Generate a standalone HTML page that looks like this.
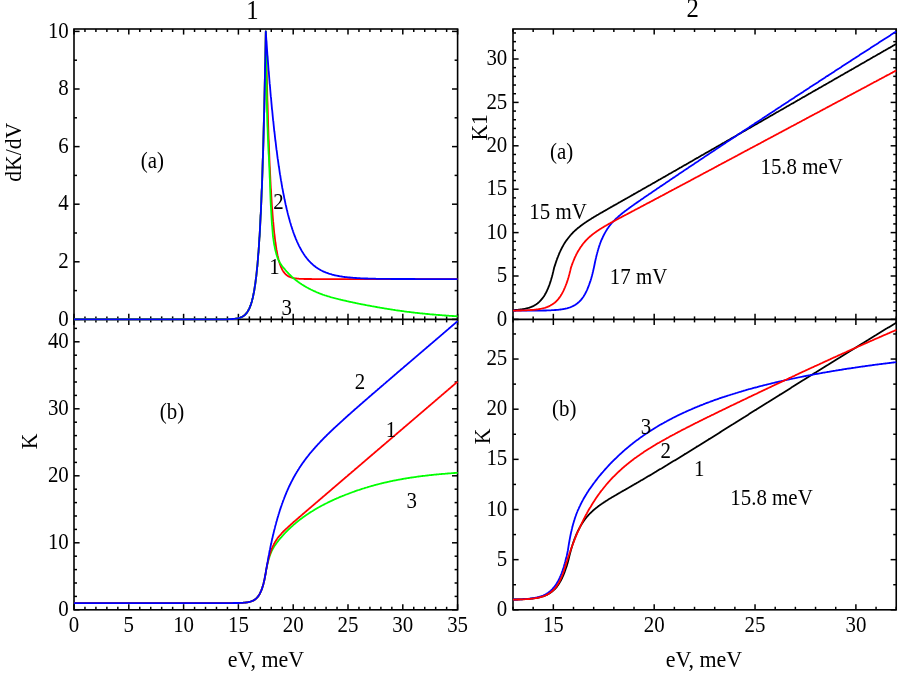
<!DOCTYPE html>
<html lang="en"><head><meta charset="utf-8"><title>chart</title>
<style>html,body{margin:0;padding:0;background:#fff;}body{width:899px;height:675px;overflow:hidden;font-family:"Liberation Serif",serif;}svg{display:block;will-change:transform;}svg text{font-family:"Liberation Serif",serif;}</style>
</head><body>
<svg width="899" height="675" viewBox="0 0 899 675" fill="#000">
<rect x="74.00" y="29.00" width="383.60" height="580.80" fill="none" stroke="#000" stroke-width="1.60"/>
<line x1="74.00" y1="319.40" x2="457.60" y2="319.40" stroke="#000" stroke-width="1.60"/>
<rect x="513.00" y="29.00" width="383.23" height="580.80" fill="none" stroke="#000" stroke-width="1.60"/>
<line x1="513.00" y1="319.40" x2="896.23" y2="319.40" stroke="#000" stroke-width="1.60"/>
<line x1="74.00" y1="29.00" x2="74.00" y2="34.60" stroke="#000" stroke-width="1.50"/>
<line x1="74.00" y1="609.80" x2="74.00" y2="604.20" stroke="#000" stroke-width="1.50"/>
<line x1="74.00" y1="313.80" x2="74.00" y2="325.00" stroke="#000" stroke-width="1.50"/>
<line x1="84.96" y1="29.00" x2="84.96" y2="32.00" stroke="#000" stroke-width="1.50"/>
<line x1="84.96" y1="609.80" x2="84.96" y2="606.80" stroke="#000" stroke-width="1.50"/>
<line x1="84.96" y1="316.40" x2="84.96" y2="322.40" stroke="#000" stroke-width="1.50"/>
<line x1="95.92" y1="29.00" x2="95.92" y2="32.00" stroke="#000" stroke-width="1.50"/>
<line x1="95.92" y1="609.80" x2="95.92" y2="606.80" stroke="#000" stroke-width="1.50"/>
<line x1="95.92" y1="316.40" x2="95.92" y2="322.40" stroke="#000" stroke-width="1.50"/>
<line x1="106.88" y1="29.00" x2="106.88" y2="32.00" stroke="#000" stroke-width="1.50"/>
<line x1="106.88" y1="609.80" x2="106.88" y2="606.80" stroke="#000" stroke-width="1.50"/>
<line x1="106.88" y1="316.40" x2="106.88" y2="322.40" stroke="#000" stroke-width="1.50"/>
<line x1="117.84" y1="29.00" x2="117.84" y2="32.00" stroke="#000" stroke-width="1.50"/>
<line x1="117.84" y1="609.80" x2="117.84" y2="606.80" stroke="#000" stroke-width="1.50"/>
<line x1="117.84" y1="316.40" x2="117.84" y2="322.40" stroke="#000" stroke-width="1.50"/>
<line x1="128.80" y1="29.00" x2="128.80" y2="34.60" stroke="#000" stroke-width="1.50"/>
<line x1="128.80" y1="609.80" x2="128.80" y2="604.20" stroke="#000" stroke-width="1.50"/>
<line x1="128.80" y1="313.80" x2="128.80" y2="325.00" stroke="#000" stroke-width="1.50"/>
<line x1="139.76" y1="29.00" x2="139.76" y2="32.00" stroke="#000" stroke-width="1.50"/>
<line x1="139.76" y1="609.80" x2="139.76" y2="606.80" stroke="#000" stroke-width="1.50"/>
<line x1="139.76" y1="316.40" x2="139.76" y2="322.40" stroke="#000" stroke-width="1.50"/>
<line x1="150.72" y1="29.00" x2="150.72" y2="32.00" stroke="#000" stroke-width="1.50"/>
<line x1="150.72" y1="609.80" x2="150.72" y2="606.80" stroke="#000" stroke-width="1.50"/>
<line x1="150.72" y1="316.40" x2="150.72" y2="322.40" stroke="#000" stroke-width="1.50"/>
<line x1="161.68" y1="29.00" x2="161.68" y2="32.00" stroke="#000" stroke-width="1.50"/>
<line x1="161.68" y1="609.80" x2="161.68" y2="606.80" stroke="#000" stroke-width="1.50"/>
<line x1="161.68" y1="316.40" x2="161.68" y2="322.40" stroke="#000" stroke-width="1.50"/>
<line x1="172.64" y1="29.00" x2="172.64" y2="32.00" stroke="#000" stroke-width="1.50"/>
<line x1="172.64" y1="609.80" x2="172.64" y2="606.80" stroke="#000" stroke-width="1.50"/>
<line x1="172.64" y1="316.40" x2="172.64" y2="322.40" stroke="#000" stroke-width="1.50"/>
<line x1="183.60" y1="29.00" x2="183.60" y2="34.60" stroke="#000" stroke-width="1.50"/>
<line x1="183.60" y1="609.80" x2="183.60" y2="604.20" stroke="#000" stroke-width="1.50"/>
<line x1="183.60" y1="313.80" x2="183.60" y2="325.00" stroke="#000" stroke-width="1.50"/>
<line x1="194.56" y1="29.00" x2="194.56" y2="32.00" stroke="#000" stroke-width="1.50"/>
<line x1="194.56" y1="609.80" x2="194.56" y2="606.80" stroke="#000" stroke-width="1.50"/>
<line x1="194.56" y1="316.40" x2="194.56" y2="322.40" stroke="#000" stroke-width="1.50"/>
<line x1="205.52" y1="29.00" x2="205.52" y2="32.00" stroke="#000" stroke-width="1.50"/>
<line x1="205.52" y1="609.80" x2="205.52" y2="606.80" stroke="#000" stroke-width="1.50"/>
<line x1="205.52" y1="316.40" x2="205.52" y2="322.40" stroke="#000" stroke-width="1.50"/>
<line x1="216.48" y1="29.00" x2="216.48" y2="32.00" stroke="#000" stroke-width="1.50"/>
<line x1="216.48" y1="609.80" x2="216.48" y2="606.80" stroke="#000" stroke-width="1.50"/>
<line x1="216.48" y1="316.40" x2="216.48" y2="322.40" stroke="#000" stroke-width="1.50"/>
<line x1="227.44" y1="29.00" x2="227.44" y2="32.00" stroke="#000" stroke-width="1.50"/>
<line x1="227.44" y1="609.80" x2="227.44" y2="606.80" stroke="#000" stroke-width="1.50"/>
<line x1="227.44" y1="316.40" x2="227.44" y2="322.40" stroke="#000" stroke-width="1.50"/>
<line x1="238.40" y1="29.00" x2="238.40" y2="34.60" stroke="#000" stroke-width="1.50"/>
<line x1="238.40" y1="609.80" x2="238.40" y2="604.20" stroke="#000" stroke-width="1.50"/>
<line x1="238.40" y1="313.80" x2="238.40" y2="325.00" stroke="#000" stroke-width="1.50"/>
<line x1="249.36" y1="29.00" x2="249.36" y2="32.00" stroke="#000" stroke-width="1.50"/>
<line x1="249.36" y1="609.80" x2="249.36" y2="606.80" stroke="#000" stroke-width="1.50"/>
<line x1="249.36" y1="316.40" x2="249.36" y2="322.40" stroke="#000" stroke-width="1.50"/>
<line x1="260.32" y1="29.00" x2="260.32" y2="32.00" stroke="#000" stroke-width="1.50"/>
<line x1="260.32" y1="609.80" x2="260.32" y2="606.80" stroke="#000" stroke-width="1.50"/>
<line x1="260.32" y1="316.40" x2="260.32" y2="322.40" stroke="#000" stroke-width="1.50"/>
<line x1="271.28" y1="29.00" x2="271.28" y2="32.00" stroke="#000" stroke-width="1.50"/>
<line x1="271.28" y1="609.80" x2="271.28" y2="606.80" stroke="#000" stroke-width="1.50"/>
<line x1="271.28" y1="316.40" x2="271.28" y2="322.40" stroke="#000" stroke-width="1.50"/>
<line x1="282.24" y1="29.00" x2="282.24" y2="32.00" stroke="#000" stroke-width="1.50"/>
<line x1="282.24" y1="609.80" x2="282.24" y2="606.80" stroke="#000" stroke-width="1.50"/>
<line x1="282.24" y1="316.40" x2="282.24" y2="322.40" stroke="#000" stroke-width="1.50"/>
<line x1="293.20" y1="29.00" x2="293.20" y2="34.60" stroke="#000" stroke-width="1.50"/>
<line x1="293.20" y1="609.80" x2="293.20" y2="604.20" stroke="#000" stroke-width="1.50"/>
<line x1="293.20" y1="313.80" x2="293.20" y2="325.00" stroke="#000" stroke-width="1.50"/>
<line x1="304.16" y1="29.00" x2="304.16" y2="32.00" stroke="#000" stroke-width="1.50"/>
<line x1="304.16" y1="609.80" x2="304.16" y2="606.80" stroke="#000" stroke-width="1.50"/>
<line x1="304.16" y1="316.40" x2="304.16" y2="322.40" stroke="#000" stroke-width="1.50"/>
<line x1="315.12" y1="29.00" x2="315.12" y2="32.00" stroke="#000" stroke-width="1.50"/>
<line x1="315.12" y1="609.80" x2="315.12" y2="606.80" stroke="#000" stroke-width="1.50"/>
<line x1="315.12" y1="316.40" x2="315.12" y2="322.40" stroke="#000" stroke-width="1.50"/>
<line x1="326.08" y1="29.00" x2="326.08" y2="32.00" stroke="#000" stroke-width="1.50"/>
<line x1="326.08" y1="609.80" x2="326.08" y2="606.80" stroke="#000" stroke-width="1.50"/>
<line x1="326.08" y1="316.40" x2="326.08" y2="322.40" stroke="#000" stroke-width="1.50"/>
<line x1="337.04" y1="29.00" x2="337.04" y2="32.00" stroke="#000" stroke-width="1.50"/>
<line x1="337.04" y1="609.80" x2="337.04" y2="606.80" stroke="#000" stroke-width="1.50"/>
<line x1="337.04" y1="316.40" x2="337.04" y2="322.40" stroke="#000" stroke-width="1.50"/>
<line x1="348.00" y1="29.00" x2="348.00" y2="34.60" stroke="#000" stroke-width="1.50"/>
<line x1="348.00" y1="609.80" x2="348.00" y2="604.20" stroke="#000" stroke-width="1.50"/>
<line x1="348.00" y1="313.80" x2="348.00" y2="325.00" stroke="#000" stroke-width="1.50"/>
<line x1="358.96" y1="29.00" x2="358.96" y2="32.00" stroke="#000" stroke-width="1.50"/>
<line x1="358.96" y1="609.80" x2="358.96" y2="606.80" stroke="#000" stroke-width="1.50"/>
<line x1="358.96" y1="316.40" x2="358.96" y2="322.40" stroke="#000" stroke-width="1.50"/>
<line x1="369.92" y1="29.00" x2="369.92" y2="32.00" stroke="#000" stroke-width="1.50"/>
<line x1="369.92" y1="609.80" x2="369.92" y2="606.80" stroke="#000" stroke-width="1.50"/>
<line x1="369.92" y1="316.40" x2="369.92" y2="322.40" stroke="#000" stroke-width="1.50"/>
<line x1="380.88" y1="29.00" x2="380.88" y2="32.00" stroke="#000" stroke-width="1.50"/>
<line x1="380.88" y1="609.80" x2="380.88" y2="606.80" stroke="#000" stroke-width="1.50"/>
<line x1="380.88" y1="316.40" x2="380.88" y2="322.40" stroke="#000" stroke-width="1.50"/>
<line x1="391.84" y1="29.00" x2="391.84" y2="32.00" stroke="#000" stroke-width="1.50"/>
<line x1="391.84" y1="609.80" x2="391.84" y2="606.80" stroke="#000" stroke-width="1.50"/>
<line x1="391.84" y1="316.40" x2="391.84" y2="322.40" stroke="#000" stroke-width="1.50"/>
<line x1="402.80" y1="29.00" x2="402.80" y2="34.60" stroke="#000" stroke-width="1.50"/>
<line x1="402.80" y1="609.80" x2="402.80" y2="604.20" stroke="#000" stroke-width="1.50"/>
<line x1="402.80" y1="313.80" x2="402.80" y2="325.00" stroke="#000" stroke-width="1.50"/>
<line x1="413.76" y1="29.00" x2="413.76" y2="32.00" stroke="#000" stroke-width="1.50"/>
<line x1="413.76" y1="609.80" x2="413.76" y2="606.80" stroke="#000" stroke-width="1.50"/>
<line x1="413.76" y1="316.40" x2="413.76" y2="322.40" stroke="#000" stroke-width="1.50"/>
<line x1="424.72" y1="29.00" x2="424.72" y2="32.00" stroke="#000" stroke-width="1.50"/>
<line x1="424.72" y1="609.80" x2="424.72" y2="606.80" stroke="#000" stroke-width="1.50"/>
<line x1="424.72" y1="316.40" x2="424.72" y2="322.40" stroke="#000" stroke-width="1.50"/>
<line x1="435.68" y1="29.00" x2="435.68" y2="32.00" stroke="#000" stroke-width="1.50"/>
<line x1="435.68" y1="609.80" x2="435.68" y2="606.80" stroke="#000" stroke-width="1.50"/>
<line x1="435.68" y1="316.40" x2="435.68" y2="322.40" stroke="#000" stroke-width="1.50"/>
<line x1="446.64" y1="29.00" x2="446.64" y2="32.00" stroke="#000" stroke-width="1.50"/>
<line x1="446.64" y1="609.80" x2="446.64" y2="606.80" stroke="#000" stroke-width="1.50"/>
<line x1="446.64" y1="316.40" x2="446.64" y2="322.40" stroke="#000" stroke-width="1.50"/>
<line x1="457.60" y1="29.00" x2="457.60" y2="34.60" stroke="#000" stroke-width="1.50"/>
<line x1="457.60" y1="609.80" x2="457.60" y2="604.20" stroke="#000" stroke-width="1.50"/>
<line x1="457.60" y1="313.80" x2="457.60" y2="325.00" stroke="#000" stroke-width="1.50"/>
<line x1="513.00" y1="29.00" x2="513.00" y2="32.00" stroke="#000" stroke-width="1.50"/>
<line x1="513.00" y1="609.80" x2="513.00" y2="606.80" stroke="#000" stroke-width="1.50"/>
<line x1="513.00" y1="316.40" x2="513.00" y2="322.40" stroke="#000" stroke-width="1.50"/>
<line x1="533.17" y1="29.00" x2="533.17" y2="32.00" stroke="#000" stroke-width="1.50"/>
<line x1="533.17" y1="609.80" x2="533.17" y2="606.80" stroke="#000" stroke-width="1.50"/>
<line x1="533.17" y1="316.40" x2="533.17" y2="322.40" stroke="#000" stroke-width="1.50"/>
<line x1="553.34" y1="29.00" x2="553.34" y2="34.60" stroke="#000" stroke-width="1.50"/>
<line x1="553.34" y1="609.80" x2="553.34" y2="604.20" stroke="#000" stroke-width="1.50"/>
<line x1="553.34" y1="313.80" x2="553.34" y2="325.00" stroke="#000" stroke-width="1.50"/>
<line x1="573.51" y1="29.00" x2="573.51" y2="32.00" stroke="#000" stroke-width="1.50"/>
<line x1="573.51" y1="609.80" x2="573.51" y2="606.80" stroke="#000" stroke-width="1.50"/>
<line x1="573.51" y1="316.40" x2="573.51" y2="322.40" stroke="#000" stroke-width="1.50"/>
<line x1="593.68" y1="29.00" x2="593.68" y2="32.00" stroke="#000" stroke-width="1.50"/>
<line x1="593.68" y1="609.80" x2="593.68" y2="606.80" stroke="#000" stroke-width="1.50"/>
<line x1="593.68" y1="316.40" x2="593.68" y2="322.40" stroke="#000" stroke-width="1.50"/>
<line x1="613.85" y1="29.00" x2="613.85" y2="32.00" stroke="#000" stroke-width="1.50"/>
<line x1="613.85" y1="609.80" x2="613.85" y2="606.80" stroke="#000" stroke-width="1.50"/>
<line x1="613.85" y1="316.40" x2="613.85" y2="322.40" stroke="#000" stroke-width="1.50"/>
<line x1="634.02" y1="29.00" x2="634.02" y2="32.00" stroke="#000" stroke-width="1.50"/>
<line x1="634.02" y1="609.80" x2="634.02" y2="606.80" stroke="#000" stroke-width="1.50"/>
<line x1="634.02" y1="316.40" x2="634.02" y2="322.40" stroke="#000" stroke-width="1.50"/>
<line x1="654.19" y1="29.00" x2="654.19" y2="34.60" stroke="#000" stroke-width="1.50"/>
<line x1="654.19" y1="609.80" x2="654.19" y2="604.20" stroke="#000" stroke-width="1.50"/>
<line x1="654.19" y1="313.80" x2="654.19" y2="325.00" stroke="#000" stroke-width="1.50"/>
<line x1="674.36" y1="29.00" x2="674.36" y2="32.00" stroke="#000" stroke-width="1.50"/>
<line x1="674.36" y1="609.80" x2="674.36" y2="606.80" stroke="#000" stroke-width="1.50"/>
<line x1="674.36" y1="316.40" x2="674.36" y2="322.40" stroke="#000" stroke-width="1.50"/>
<line x1="694.53" y1="29.00" x2="694.53" y2="32.00" stroke="#000" stroke-width="1.50"/>
<line x1="694.53" y1="609.80" x2="694.53" y2="606.80" stroke="#000" stroke-width="1.50"/>
<line x1="694.53" y1="316.40" x2="694.53" y2="322.40" stroke="#000" stroke-width="1.50"/>
<line x1="714.70" y1="29.00" x2="714.70" y2="32.00" stroke="#000" stroke-width="1.50"/>
<line x1="714.70" y1="609.80" x2="714.70" y2="606.80" stroke="#000" stroke-width="1.50"/>
<line x1="714.70" y1="316.40" x2="714.70" y2="322.40" stroke="#000" stroke-width="1.50"/>
<line x1="734.87" y1="29.00" x2="734.87" y2="32.00" stroke="#000" stroke-width="1.50"/>
<line x1="734.87" y1="609.80" x2="734.87" y2="606.80" stroke="#000" stroke-width="1.50"/>
<line x1="734.87" y1="316.40" x2="734.87" y2="322.40" stroke="#000" stroke-width="1.50"/>
<line x1="755.04" y1="29.00" x2="755.04" y2="34.60" stroke="#000" stroke-width="1.50"/>
<line x1="755.04" y1="609.80" x2="755.04" y2="604.20" stroke="#000" stroke-width="1.50"/>
<line x1="755.04" y1="313.80" x2="755.04" y2="325.00" stroke="#000" stroke-width="1.50"/>
<line x1="775.21" y1="29.00" x2="775.21" y2="32.00" stroke="#000" stroke-width="1.50"/>
<line x1="775.21" y1="609.80" x2="775.21" y2="606.80" stroke="#000" stroke-width="1.50"/>
<line x1="775.21" y1="316.40" x2="775.21" y2="322.40" stroke="#000" stroke-width="1.50"/>
<line x1="795.38" y1="29.00" x2="795.38" y2="32.00" stroke="#000" stroke-width="1.50"/>
<line x1="795.38" y1="609.80" x2="795.38" y2="606.80" stroke="#000" stroke-width="1.50"/>
<line x1="795.38" y1="316.40" x2="795.38" y2="322.40" stroke="#000" stroke-width="1.50"/>
<line x1="815.55" y1="29.00" x2="815.55" y2="32.00" stroke="#000" stroke-width="1.50"/>
<line x1="815.55" y1="609.80" x2="815.55" y2="606.80" stroke="#000" stroke-width="1.50"/>
<line x1="815.55" y1="316.40" x2="815.55" y2="322.40" stroke="#000" stroke-width="1.50"/>
<line x1="835.72" y1="29.00" x2="835.72" y2="32.00" stroke="#000" stroke-width="1.50"/>
<line x1="835.72" y1="609.80" x2="835.72" y2="606.80" stroke="#000" stroke-width="1.50"/>
<line x1="835.72" y1="316.40" x2="835.72" y2="322.40" stroke="#000" stroke-width="1.50"/>
<line x1="855.89" y1="29.00" x2="855.89" y2="34.60" stroke="#000" stroke-width="1.50"/>
<line x1="855.89" y1="609.80" x2="855.89" y2="604.20" stroke="#000" stroke-width="1.50"/>
<line x1="855.89" y1="313.80" x2="855.89" y2="325.00" stroke="#000" stroke-width="1.50"/>
<line x1="876.06" y1="29.00" x2="876.06" y2="32.00" stroke="#000" stroke-width="1.50"/>
<line x1="876.06" y1="609.80" x2="876.06" y2="606.80" stroke="#000" stroke-width="1.50"/>
<line x1="876.06" y1="316.40" x2="876.06" y2="322.40" stroke="#000" stroke-width="1.50"/>
<line x1="896.23" y1="29.00" x2="896.23" y2="32.00" stroke="#000" stroke-width="1.50"/>
<line x1="896.23" y1="609.80" x2="896.23" y2="606.80" stroke="#000" stroke-width="1.50"/>
<line x1="896.23" y1="316.40" x2="896.23" y2="322.40" stroke="#000" stroke-width="1.50"/>
<line x1="74.00" y1="319.40" x2="79.60" y2="319.40" stroke="#000" stroke-width="1.50"/>
<line x1="457.60" y1="319.40" x2="452.00" y2="319.40" stroke="#000" stroke-width="1.50"/>
<line x1="74.00" y1="261.80" x2="79.60" y2="261.80" stroke="#000" stroke-width="1.50"/>
<line x1="457.60" y1="261.80" x2="452.00" y2="261.80" stroke="#000" stroke-width="1.50"/>
<line x1="74.00" y1="204.20" x2="79.60" y2="204.20" stroke="#000" stroke-width="1.50"/>
<line x1="457.60" y1="204.20" x2="452.00" y2="204.20" stroke="#000" stroke-width="1.50"/>
<line x1="74.00" y1="146.60" x2="79.60" y2="146.60" stroke="#000" stroke-width="1.50"/>
<line x1="457.60" y1="146.60" x2="452.00" y2="146.60" stroke="#000" stroke-width="1.50"/>
<line x1="74.00" y1="89.00" x2="79.60" y2="89.00" stroke="#000" stroke-width="1.50"/>
<line x1="457.60" y1="89.00" x2="452.00" y2="89.00" stroke="#000" stroke-width="1.50"/>
<line x1="74.00" y1="31.40" x2="79.60" y2="31.40" stroke="#000" stroke-width="1.50"/>
<line x1="457.60" y1="31.40" x2="452.00" y2="31.40" stroke="#000" stroke-width="1.50"/>
<line x1="74.00" y1="290.60" x2="77.00" y2="290.60" stroke="#000" stroke-width="1.50"/>
<line x1="457.60" y1="290.60" x2="454.60" y2="290.60" stroke="#000" stroke-width="1.50"/>
<line x1="74.00" y1="233.00" x2="77.00" y2="233.00" stroke="#000" stroke-width="1.50"/>
<line x1="457.60" y1="233.00" x2="454.60" y2="233.00" stroke="#000" stroke-width="1.50"/>
<line x1="74.00" y1="175.40" x2="77.00" y2="175.40" stroke="#000" stroke-width="1.50"/>
<line x1="457.60" y1="175.40" x2="454.60" y2="175.40" stroke="#000" stroke-width="1.50"/>
<line x1="74.00" y1="117.80" x2="77.00" y2="117.80" stroke="#000" stroke-width="1.50"/>
<line x1="457.60" y1="117.80" x2="454.60" y2="117.80" stroke="#000" stroke-width="1.50"/>
<line x1="74.00" y1="60.20" x2="77.00" y2="60.20" stroke="#000" stroke-width="1.50"/>
<line x1="457.60" y1="60.20" x2="454.60" y2="60.20" stroke="#000" stroke-width="1.50"/>
<line x1="74.00" y1="609.80" x2="79.60" y2="609.80" stroke="#000" stroke-width="1.50"/>
<line x1="457.60" y1="609.80" x2="452.00" y2="609.80" stroke="#000" stroke-width="1.50"/>
<line x1="74.00" y1="542.80" x2="79.60" y2="542.80" stroke="#000" stroke-width="1.50"/>
<line x1="457.60" y1="542.80" x2="452.00" y2="542.80" stroke="#000" stroke-width="1.50"/>
<line x1="74.00" y1="475.80" x2="79.60" y2="475.80" stroke="#000" stroke-width="1.50"/>
<line x1="457.60" y1="475.80" x2="452.00" y2="475.80" stroke="#000" stroke-width="1.50"/>
<line x1="74.00" y1="408.80" x2="79.60" y2="408.80" stroke="#000" stroke-width="1.50"/>
<line x1="457.60" y1="408.80" x2="452.00" y2="408.80" stroke="#000" stroke-width="1.50"/>
<line x1="74.00" y1="341.80" x2="79.60" y2="341.80" stroke="#000" stroke-width="1.50"/>
<line x1="457.60" y1="341.80" x2="452.00" y2="341.80" stroke="#000" stroke-width="1.50"/>
<line x1="74.00" y1="596.40" x2="77.00" y2="596.40" stroke="#000" stroke-width="1.50"/>
<line x1="457.60" y1="596.40" x2="454.60" y2="596.40" stroke="#000" stroke-width="1.50"/>
<line x1="74.00" y1="583.00" x2="77.00" y2="583.00" stroke="#000" stroke-width="1.50"/>
<line x1="457.60" y1="583.00" x2="454.60" y2="583.00" stroke="#000" stroke-width="1.50"/>
<line x1="74.00" y1="569.60" x2="77.00" y2="569.60" stroke="#000" stroke-width="1.50"/>
<line x1="457.60" y1="569.60" x2="454.60" y2="569.60" stroke="#000" stroke-width="1.50"/>
<line x1="74.00" y1="556.20" x2="77.00" y2="556.20" stroke="#000" stroke-width="1.50"/>
<line x1="457.60" y1="556.20" x2="454.60" y2="556.20" stroke="#000" stroke-width="1.50"/>
<line x1="74.00" y1="529.40" x2="77.00" y2="529.40" stroke="#000" stroke-width="1.50"/>
<line x1="457.60" y1="529.40" x2="454.60" y2="529.40" stroke="#000" stroke-width="1.50"/>
<line x1="74.00" y1="516.00" x2="77.00" y2="516.00" stroke="#000" stroke-width="1.50"/>
<line x1="457.60" y1="516.00" x2="454.60" y2="516.00" stroke="#000" stroke-width="1.50"/>
<line x1="74.00" y1="502.60" x2="77.00" y2="502.60" stroke="#000" stroke-width="1.50"/>
<line x1="457.60" y1="502.60" x2="454.60" y2="502.60" stroke="#000" stroke-width="1.50"/>
<line x1="74.00" y1="489.20" x2="77.00" y2="489.20" stroke="#000" stroke-width="1.50"/>
<line x1="457.60" y1="489.20" x2="454.60" y2="489.20" stroke="#000" stroke-width="1.50"/>
<line x1="74.00" y1="462.40" x2="77.00" y2="462.40" stroke="#000" stroke-width="1.50"/>
<line x1="457.60" y1="462.40" x2="454.60" y2="462.40" stroke="#000" stroke-width="1.50"/>
<line x1="74.00" y1="449.00" x2="77.00" y2="449.00" stroke="#000" stroke-width="1.50"/>
<line x1="457.60" y1="449.00" x2="454.60" y2="449.00" stroke="#000" stroke-width="1.50"/>
<line x1="74.00" y1="435.60" x2="77.00" y2="435.60" stroke="#000" stroke-width="1.50"/>
<line x1="457.60" y1="435.60" x2="454.60" y2="435.60" stroke="#000" stroke-width="1.50"/>
<line x1="74.00" y1="422.20" x2="77.00" y2="422.20" stroke="#000" stroke-width="1.50"/>
<line x1="457.60" y1="422.20" x2="454.60" y2="422.20" stroke="#000" stroke-width="1.50"/>
<line x1="74.00" y1="395.40" x2="77.00" y2="395.40" stroke="#000" stroke-width="1.50"/>
<line x1="457.60" y1="395.40" x2="454.60" y2="395.40" stroke="#000" stroke-width="1.50"/>
<line x1="74.00" y1="382.00" x2="77.00" y2="382.00" stroke="#000" stroke-width="1.50"/>
<line x1="457.60" y1="382.00" x2="454.60" y2="382.00" stroke="#000" stroke-width="1.50"/>
<line x1="74.00" y1="368.60" x2="77.00" y2="368.60" stroke="#000" stroke-width="1.50"/>
<line x1="457.60" y1="368.60" x2="454.60" y2="368.60" stroke="#000" stroke-width="1.50"/>
<line x1="74.00" y1="355.20" x2="77.00" y2="355.20" stroke="#000" stroke-width="1.50"/>
<line x1="457.60" y1="355.20" x2="454.60" y2="355.20" stroke="#000" stroke-width="1.50"/>
<line x1="74.00" y1="328.40" x2="77.00" y2="328.40" stroke="#000" stroke-width="1.50"/>
<line x1="457.60" y1="328.40" x2="454.60" y2="328.40" stroke="#000" stroke-width="1.50"/>
<line x1="513.00" y1="319.40" x2="518.60" y2="319.40" stroke="#000" stroke-width="1.50"/>
<line x1="896.23" y1="319.40" x2="890.63" y2="319.40" stroke="#000" stroke-width="1.50"/>
<line x1="513.00" y1="276.00" x2="518.60" y2="276.00" stroke="#000" stroke-width="1.50"/>
<line x1="896.23" y1="276.00" x2="890.63" y2="276.00" stroke="#000" stroke-width="1.50"/>
<line x1="513.00" y1="232.60" x2="518.60" y2="232.60" stroke="#000" stroke-width="1.50"/>
<line x1="896.23" y1="232.60" x2="890.63" y2="232.60" stroke="#000" stroke-width="1.50"/>
<line x1="513.00" y1="189.20" x2="518.60" y2="189.20" stroke="#000" stroke-width="1.50"/>
<line x1="896.23" y1="189.20" x2="890.63" y2="189.20" stroke="#000" stroke-width="1.50"/>
<line x1="513.00" y1="145.80" x2="518.60" y2="145.80" stroke="#000" stroke-width="1.50"/>
<line x1="896.23" y1="145.80" x2="890.63" y2="145.80" stroke="#000" stroke-width="1.50"/>
<line x1="513.00" y1="102.40" x2="518.60" y2="102.40" stroke="#000" stroke-width="1.50"/>
<line x1="896.23" y1="102.40" x2="890.63" y2="102.40" stroke="#000" stroke-width="1.50"/>
<line x1="513.00" y1="59.00" x2="518.60" y2="59.00" stroke="#000" stroke-width="1.50"/>
<line x1="896.23" y1="59.00" x2="890.63" y2="59.00" stroke="#000" stroke-width="1.50"/>
<line x1="513.00" y1="310.72" x2="516.00" y2="310.72" stroke="#000" stroke-width="1.50"/>
<line x1="896.23" y1="310.72" x2="893.23" y2="310.72" stroke="#000" stroke-width="1.50"/>
<line x1="513.00" y1="302.04" x2="516.00" y2="302.04" stroke="#000" stroke-width="1.50"/>
<line x1="896.23" y1="302.04" x2="893.23" y2="302.04" stroke="#000" stroke-width="1.50"/>
<line x1="513.00" y1="293.36" x2="516.00" y2="293.36" stroke="#000" stroke-width="1.50"/>
<line x1="896.23" y1="293.36" x2="893.23" y2="293.36" stroke="#000" stroke-width="1.50"/>
<line x1="513.00" y1="284.68" x2="516.00" y2="284.68" stroke="#000" stroke-width="1.50"/>
<line x1="896.23" y1="284.68" x2="893.23" y2="284.68" stroke="#000" stroke-width="1.50"/>
<line x1="513.00" y1="267.32" x2="516.00" y2="267.32" stroke="#000" stroke-width="1.50"/>
<line x1="896.23" y1="267.32" x2="893.23" y2="267.32" stroke="#000" stroke-width="1.50"/>
<line x1="513.00" y1="258.64" x2="516.00" y2="258.64" stroke="#000" stroke-width="1.50"/>
<line x1="896.23" y1="258.64" x2="893.23" y2="258.64" stroke="#000" stroke-width="1.50"/>
<line x1="513.00" y1="249.96" x2="516.00" y2="249.96" stroke="#000" stroke-width="1.50"/>
<line x1="896.23" y1="249.96" x2="893.23" y2="249.96" stroke="#000" stroke-width="1.50"/>
<line x1="513.00" y1="241.28" x2="516.00" y2="241.28" stroke="#000" stroke-width="1.50"/>
<line x1="896.23" y1="241.28" x2="893.23" y2="241.28" stroke="#000" stroke-width="1.50"/>
<line x1="513.00" y1="223.92" x2="516.00" y2="223.92" stroke="#000" stroke-width="1.50"/>
<line x1="896.23" y1="223.92" x2="893.23" y2="223.92" stroke="#000" stroke-width="1.50"/>
<line x1="513.00" y1="215.24" x2="516.00" y2="215.24" stroke="#000" stroke-width="1.50"/>
<line x1="896.23" y1="215.24" x2="893.23" y2="215.24" stroke="#000" stroke-width="1.50"/>
<line x1="513.00" y1="206.56" x2="516.00" y2="206.56" stroke="#000" stroke-width="1.50"/>
<line x1="896.23" y1="206.56" x2="893.23" y2="206.56" stroke="#000" stroke-width="1.50"/>
<line x1="513.00" y1="197.88" x2="516.00" y2="197.88" stroke="#000" stroke-width="1.50"/>
<line x1="896.23" y1="197.88" x2="893.23" y2="197.88" stroke="#000" stroke-width="1.50"/>
<line x1="513.00" y1="180.52" x2="516.00" y2="180.52" stroke="#000" stroke-width="1.50"/>
<line x1="896.23" y1="180.52" x2="893.23" y2="180.52" stroke="#000" stroke-width="1.50"/>
<line x1="513.00" y1="171.84" x2="516.00" y2="171.84" stroke="#000" stroke-width="1.50"/>
<line x1="896.23" y1="171.84" x2="893.23" y2="171.84" stroke="#000" stroke-width="1.50"/>
<line x1="513.00" y1="163.16" x2="516.00" y2="163.16" stroke="#000" stroke-width="1.50"/>
<line x1="896.23" y1="163.16" x2="893.23" y2="163.16" stroke="#000" stroke-width="1.50"/>
<line x1="513.00" y1="154.48" x2="516.00" y2="154.48" stroke="#000" stroke-width="1.50"/>
<line x1="896.23" y1="154.48" x2="893.23" y2="154.48" stroke="#000" stroke-width="1.50"/>
<line x1="513.00" y1="137.12" x2="516.00" y2="137.12" stroke="#000" stroke-width="1.50"/>
<line x1="896.23" y1="137.12" x2="893.23" y2="137.12" stroke="#000" stroke-width="1.50"/>
<line x1="513.00" y1="128.44" x2="516.00" y2="128.44" stroke="#000" stroke-width="1.50"/>
<line x1="896.23" y1="128.44" x2="893.23" y2="128.44" stroke="#000" stroke-width="1.50"/>
<line x1="513.00" y1="119.76" x2="516.00" y2="119.76" stroke="#000" stroke-width="1.50"/>
<line x1="896.23" y1="119.76" x2="893.23" y2="119.76" stroke="#000" stroke-width="1.50"/>
<line x1="513.00" y1="111.08" x2="516.00" y2="111.08" stroke="#000" stroke-width="1.50"/>
<line x1="896.23" y1="111.08" x2="893.23" y2="111.08" stroke="#000" stroke-width="1.50"/>
<line x1="513.00" y1="93.72" x2="516.00" y2="93.72" stroke="#000" stroke-width="1.50"/>
<line x1="896.23" y1="93.72" x2="893.23" y2="93.72" stroke="#000" stroke-width="1.50"/>
<line x1="513.00" y1="85.04" x2="516.00" y2="85.04" stroke="#000" stroke-width="1.50"/>
<line x1="896.23" y1="85.04" x2="893.23" y2="85.04" stroke="#000" stroke-width="1.50"/>
<line x1="513.00" y1="76.36" x2="516.00" y2="76.36" stroke="#000" stroke-width="1.50"/>
<line x1="896.23" y1="76.36" x2="893.23" y2="76.36" stroke="#000" stroke-width="1.50"/>
<line x1="513.00" y1="67.68" x2="516.00" y2="67.68" stroke="#000" stroke-width="1.50"/>
<line x1="896.23" y1="67.68" x2="893.23" y2="67.68" stroke="#000" stroke-width="1.50"/>
<line x1="513.00" y1="50.32" x2="516.00" y2="50.32" stroke="#000" stroke-width="1.50"/>
<line x1="896.23" y1="50.32" x2="893.23" y2="50.32" stroke="#000" stroke-width="1.50"/>
<line x1="513.00" y1="41.64" x2="516.00" y2="41.64" stroke="#000" stroke-width="1.50"/>
<line x1="896.23" y1="41.64" x2="893.23" y2="41.64" stroke="#000" stroke-width="1.50"/>
<line x1="513.00" y1="32.96" x2="516.00" y2="32.96" stroke="#000" stroke-width="1.50"/>
<line x1="896.23" y1="32.96" x2="893.23" y2="32.96" stroke="#000" stroke-width="1.50"/>
<line x1="513.00" y1="609.80" x2="518.60" y2="609.80" stroke="#000" stroke-width="1.50"/>
<line x1="896.23" y1="609.80" x2="890.63" y2="609.80" stroke="#000" stroke-width="1.50"/>
<line x1="513.00" y1="559.65" x2="518.60" y2="559.65" stroke="#000" stroke-width="1.50"/>
<line x1="896.23" y1="559.65" x2="890.63" y2="559.65" stroke="#000" stroke-width="1.50"/>
<line x1="513.00" y1="509.50" x2="518.60" y2="509.50" stroke="#000" stroke-width="1.50"/>
<line x1="896.23" y1="509.50" x2="890.63" y2="509.50" stroke="#000" stroke-width="1.50"/>
<line x1="513.00" y1="459.35" x2="518.60" y2="459.35" stroke="#000" stroke-width="1.50"/>
<line x1="896.23" y1="459.35" x2="890.63" y2="459.35" stroke="#000" stroke-width="1.50"/>
<line x1="513.00" y1="409.20" x2="518.60" y2="409.20" stroke="#000" stroke-width="1.50"/>
<line x1="896.23" y1="409.20" x2="890.63" y2="409.20" stroke="#000" stroke-width="1.50"/>
<line x1="513.00" y1="359.05" x2="518.60" y2="359.05" stroke="#000" stroke-width="1.50"/>
<line x1="896.23" y1="359.05" x2="890.63" y2="359.05" stroke="#000" stroke-width="1.50"/>
<line x1="513.00" y1="584.72" x2="516.00" y2="584.72" stroke="#000" stroke-width="1.50"/>
<line x1="896.23" y1="584.72" x2="893.23" y2="584.72" stroke="#000" stroke-width="1.50"/>
<line x1="513.00" y1="534.57" x2="516.00" y2="534.57" stroke="#000" stroke-width="1.50"/>
<line x1="896.23" y1="534.57" x2="893.23" y2="534.57" stroke="#000" stroke-width="1.50"/>
<line x1="513.00" y1="484.42" x2="516.00" y2="484.42" stroke="#000" stroke-width="1.50"/>
<line x1="896.23" y1="484.42" x2="893.23" y2="484.42" stroke="#000" stroke-width="1.50"/>
<line x1="513.00" y1="434.27" x2="516.00" y2="434.27" stroke="#000" stroke-width="1.50"/>
<line x1="896.23" y1="434.27" x2="893.23" y2="434.27" stroke="#000" stroke-width="1.50"/>
<line x1="513.00" y1="384.12" x2="516.00" y2="384.12" stroke="#000" stroke-width="1.50"/>
<line x1="896.23" y1="384.12" x2="893.23" y2="384.12" stroke="#000" stroke-width="1.50"/>
<line x1="513.00" y1="333.97" x2="516.00" y2="333.97" stroke="#000" stroke-width="1.50"/>
<line x1="896.23" y1="333.97" x2="893.23" y2="333.97" stroke="#000" stroke-width="1.50"/>
<polyline points="74.0,319.4 74.9,319.4 75.8,319.4 76.6,319.4 77.5,319.4 78.4,319.4 79.3,319.4 80.1,319.4 81.0,319.4 81.9,319.4 82.8,319.4 83.6,319.4 84.5,319.4 85.4,319.4 86.3,319.4 87.2,319.4 88.0,319.4 88.9,319.4 89.8,319.4 90.7,319.4 91.5,319.4 92.4,319.4 93.3,319.4 94.2,319.4 95.0,319.4 95.9,319.4 96.8,319.4 97.7,319.4 98.6,319.4 99.4,319.4 100.3,319.4 101.2,319.4 102.1,319.4 102.9,319.4 103.8,319.4 104.7,319.4 105.6,319.4 106.4,319.4 107.3,319.4 108.2,319.4 109.1,319.4 109.9,319.4 110.8,319.4 111.7,319.4 112.6,319.4 113.5,319.4 114.3,319.4 115.2,319.4 116.1,319.4 117.0,319.4 117.8,319.4 118.7,319.4 119.6,319.4 120.5,319.4 121.3,319.4 122.2,319.4 123.1,319.4 124.0,319.4 124.9,319.4 125.7,319.4 126.6,319.4 127.5,319.4 128.4,319.4 129.2,319.4 130.1,319.4 131.0,319.4 131.9,319.4 132.7,319.4 133.6,319.4 134.5,319.4 135.4,319.4 136.3,319.4 137.1,319.4 138.0,319.4 138.9,319.4 139.8,319.4 140.6,319.4 141.5,319.4 142.4,319.4 143.3,319.4 144.1,319.4 145.0,319.4 145.9,319.4 146.8,319.4 147.7,319.4 148.5,319.4 149.4,319.4 150.3,319.4 151.2,319.4 152.0,319.4 152.9,319.4 153.8,319.4 154.7,319.4 155.5,319.4 156.4,319.4 157.3,319.4 158.2,319.4 159.0,319.4 159.9,319.4 160.8,319.4 161.7,319.4 162.6,319.4 163.4,319.4 164.3,319.4 165.2,319.4 166.1,319.4 166.9,319.4 167.8,319.4 168.7,319.4 169.6,319.4 170.4,319.4 171.3,319.4 172.2,319.4 173.1,319.4 174.0,319.4 174.8,319.4 175.7,319.4 176.6,319.4 177.5,319.4 178.3,319.4 179.2,319.4 180.1,319.4 181.0,319.4 181.8,319.4 182.7,319.4 183.6,319.4 184.5,319.4 185.4,319.4 186.2,319.4 187.1,319.4 188.0,319.4 188.9,319.4 189.7,319.4 190.6,319.4 191.5,319.4 192.4,319.4 193.2,319.4 194.1,319.4 195.0,319.4 195.9,319.4 196.8,319.4 197.6,319.4 198.5,319.4 199.4,319.4 200.3,319.4 201.1,319.4 202.0,319.4 202.9,319.4 203.8,319.4 204.6,319.4 205.5,319.4 206.4,319.4 207.3,319.4 208.2,319.4 209.0,319.4 209.9,319.4 210.8,319.4 211.7,319.4 212.5,319.4 213.4,319.4 214.3,319.4 215.2,319.4 216.0,319.4 216.9,319.4 217.8,319.4 218.7,319.4 219.5,319.4 220.4,319.4 221.3,319.4 222.2,319.3 223.1,319.3 223.9,319.3 224.8,319.3 225.7,319.3 226.6,319.3 227.4,319.3 228.3,319.2 229.2,319.2 230.0,319.2 230.7,319.1 231.5,319.1 232.3,319.0 233.0,319.0 233.8,318.9 234.6,318.8 235.3,318.7 236.1,318.6 236.9,318.5 237.6,318.3 238.3,318.2 238.9,318.0 239.6,317.8 240.3,317.6 240.9,317.3 241.6,317.0 242.1,316.8 242.7,316.5 243.2,316.1 243.8,315.8 244.3,315.3 244.8,315.0 245.2,314.6 245.6,314.1 246.1,313.6 246.5,313.1 246.9,312.6 247.4,311.9 247.7,311.4 248.0,310.9 248.4,310.3 248.7,309.7 249.0,309.1 249.4,308.4 249.7,307.6 250.0,306.8 250.3,306.0 250.6,305.4 250.8,304.7 251.0,304.1 251.2,303.4 251.4,302.7 251.7,302.0 251.9,301.2 252.1,300.4 252.3,299.5 252.5,298.7 252.8,297.7 253.0,296.8 253.2,295.8 253.4,294.7 253.6,293.6 253.9,292.5 254.1,291.3 254.3,290.0 254.5,288.7 254.7,287.3 254.8,286.6 254.9,285.9 255.1,285.2 255.2,284.4 255.3,283.7 255.4,282.9 255.5,282.1 255.6,281.3 255.7,280.4 255.8,279.6 255.9,278.7 256.0,277.8 256.2,276.9 256.3,275.9 256.4,275.0 256.5,274.0 256.6,273.0 256.7,272.0 256.8,271.0 256.9,269.9 257.0,268.8 257.1,267.7 257.3,266.6 257.4,265.4 257.5,264.2 257.6,263.0 257.7,261.8 257.8,260.5 257.9,259.2 258.0,257.9 258.1,256.5 258.2,255.1 258.3,253.7 258.5,252.3 258.6,250.8 258.7,249.3 258.8,247.8 258.9,246.2 259.0,244.6 259.1,242.9 259.2,241.3 259.3,239.5 259.4,237.8 259.6,236.0 259.7,234.2 259.8,232.3 259.9,230.4 260.0,228.4 260.1,226.4 260.2,224.4 260.3,222.3 260.4,220.1 260.5,218.0 260.6,215.7 260.8,213.5 260.9,211.1 261.0,208.7 261.1,206.3 261.2,203.8 261.3,201.3 261.4,198.7 261.5,196.0 261.6,193.3 261.7,190.6 261.9,187.7 262.0,184.8 262.1,181.9 262.2,178.8 262.3,175.8 262.4,172.6 262.5,169.4 262.6,166.1 262.7,162.7 262.8,159.3 263.0,155.7 263.1,152.2 263.2,148.5 263.3,144.7 263.4,140.9 263.5,137.0 263.6,132.9 263.7,128.8 263.8,124.7 263.9,120.4 264.0,116.0 264.2,111.5 264.3,107.0 264.4,102.3 264.5,97.5 264.6,92.7 264.7,87.7 264.8,82.6 264.9,77.4 265.0,72.1 265.1,66.6 265.3,61.1 265.4,55.4 265.5,49.6 265.6,43.7 265.7,37.6 265.8,31.4 265.9,36.7 266.0,41.9 266.1,47.0 266.2,52.0 266.3,56.9 266.5,61.7 266.6,66.4 266.7,70.9 266.8,75.4 266.9,79.8 267.0,84.1 267.1,88.3 267.2,92.4 267.3,96.4 267.4,100.3 267.6,104.2 267.7,107.9 267.8,111.6 267.9,115.2 268.0,118.7 268.1,122.2 268.2,125.6 268.3,128.9 268.4,132.1 268.5,135.2 268.6,138.3 268.8,141.4 268.9,144.3 269.0,147.2 269.1,150.1 269.2,152.8 269.3,155.5 269.4,158.2 269.5,160.8 269.6,163.3 269.7,165.8 269.9,168.3 270.0,170.7 270.1,173.0 270.2,175.3 270.3,177.5 270.4,179.7 270.5,181.8 270.6,183.9 270.7,186.0 270.8,188.0 271.0,189.9 271.1,191.8 271.2,193.7 271.3,195.6 271.4,197.3 271.5,199.1 271.6,200.8 271.7,202.5 271.8,204.2 271.9,205.8 272.0,207.3 272.2,208.9 272.3,210.4 272.4,211.9 272.5,213.3 272.6,214.7 272.7,216.1 272.8,217.5 272.9,218.8 273.0,220.1 273.1,221.4 273.3,222.6 273.4,223.8 273.5,225.0 273.6,226.2 273.7,227.3 273.8,228.4 273.9,229.5 274.0,230.6 274.1,231.6 274.2,232.6 274.3,233.6 274.5,234.6 274.6,235.6 274.7,236.5 274.8,237.4 274.9,238.3 275.0,239.2 275.1,240.1 275.2,240.9 275.3,241.7 275.4,242.5 275.6,243.3 275.7,244.1 275.8,244.8 275.9,245.6 276.0,246.3 276.1,247.0 276.3,248.4 276.5,249.7 276.8,250.9 277.0,252.1 277.2,253.3 277.4,254.4 277.6,255.4 277.9,256.4 278.1,257.4 278.3,258.3 278.5,259.2 278.7,260.0 279.0,260.8 279.2,261.6 279.4,262.4 279.6,263.1 279.8,263.8 280.0,264.4 280.3,265.0 280.5,265.6 280.8,266.5 281.1,267.3 281.5,268.0 281.8,268.7 282.1,269.4 282.5,270.0 282.8,270.6 283.1,271.1 283.4,271.6 283.8,272.1 284.2,272.7 284.7,273.2 285.1,273.7 285.5,274.1 286.0,274.5 286.4,274.9 287.0,275.3 287.5,275.7 288.0,276.1 288.6,276.4 289.1,276.7 289.8,277.0 290.5,277.2 291.1,277.4 291.8,277.6 292.4,277.8 293.1,278.0 293.9,278.1 294.6,278.3 295.4,278.4 296.2,278.5 296.9,278.6 297.7,278.6 298.5,278.7 299.2,278.8 300.0,278.8 300.8,278.8 301.5,278.9 302.4,278.9 303.3,278.9 304.2,279.0 305.0,279.0 305.9,279.0 306.8,279.0 307.7,279.0 308.5,279.0 309.4,279.0 310.3,279.0 311.2,279.0 312.1,279.1 312.9,279.1 313.8,279.1 314.7,279.1 315.6,279.1 316.4,279.1 317.3,279.1 318.2,279.1 319.1,279.1 319.9,279.1 320.8,279.1 321.7,279.1 322.6,279.1 323.4,279.1 324.3,279.1 325.2,279.1 326.1,279.1 327.0,279.1 327.8,279.1 328.7,279.1 329.6,279.1 330.5,279.1 331.3,279.1 332.2,279.1 333.1,279.1 334.0,279.1 334.8,279.1 335.7,279.1 336.6,279.1 337.5,279.1 338.4,279.1 339.2,279.1 340.1,279.1 341.0,279.1 341.9,279.1 342.7,279.1 343.6,279.1 344.5,279.1 345.4,279.1 346.2,279.1 347.1,279.1 348.0,279.1 348.9,279.1 349.8,279.1 350.6,279.1 351.5,279.1 352.4,279.1 353.3,279.1 354.1,279.1 355.0,279.1 355.9,279.1 356.8,279.1 357.6,279.1 358.5,279.1 359.4,279.1 360.3,279.1 361.2,279.1 362.0,279.1 362.9,279.1 363.8,279.1 364.7,279.1 365.5,279.1 366.4,279.1 367.3,279.1 368.2,279.1 369.0,279.1 369.9,279.1 370.8,279.1 371.7,279.1 372.6,279.1 373.4,279.1 374.3,279.1 375.2,279.1 376.1,279.1 376.9,279.1 377.8,279.1 378.7,279.1 379.6,279.1 380.4,279.1 381.3,279.1 382.2,279.1 383.1,279.1 383.9,279.1 384.8,279.1 385.7,279.1 386.6,279.1 387.5,279.1 388.3,279.1 389.2,279.1 390.1,279.1 391.0,279.1 391.8,279.1 392.7,279.1 393.6,279.1 394.5,279.1 395.3,279.1 396.2,279.1 397.1,279.1 398.0,279.1 398.9,279.1 399.7,279.1 400.6,279.1 401.5,279.1 402.4,279.1 403.2,279.1 404.1,279.1 405.0,279.1 405.9,279.1 406.7,279.1 407.6,279.1 408.5,279.1 409.4,279.1 410.3,279.1 411.1,279.1 412.0,279.1 412.9,279.1 413.8,279.1 414.6,279.1 415.5,279.1 416.4,279.1 417.3,279.1 418.1,279.1 419.0,279.1 419.9,279.1 420.8,279.1 421.7,279.1 422.5,279.1 423.4,279.1 424.3,279.1 425.2,279.1 426.0,279.1 426.9,279.1 427.8,279.1 428.7,279.1 429.5,279.1 430.4,279.1 431.3,279.1 432.2,279.1 433.0,279.1 433.9,279.1 434.8,279.1 435.7,279.1 436.6,279.1 437.4,279.1 438.3,279.1 439.2,279.1 440.1,279.1 440.9,279.1 441.8,279.1 442.7,279.1 443.6,279.1 444.4,279.1 445.3,279.1 446.2,279.1 447.1,279.1 448.0,279.1 448.8,279.1 449.7,279.1 450.6,279.1 451.5,279.1 452.3,279.1 453.2,279.1 454.1,279.1 455.0,279.1 455.8,279.1 456.7,279.1 457.6,279.1" fill="none" stroke="#ff0000" stroke-width="1.80" stroke-linejoin="round" stroke-linecap="butt"/>
<polyline points="74.0,319.4 74.9,319.4 75.8,319.4 76.6,319.4 77.5,319.4 78.4,319.4 79.3,319.4 80.1,319.4 81.0,319.4 81.9,319.4 82.8,319.4 83.6,319.4 84.5,319.4 85.4,319.4 86.3,319.4 87.2,319.4 88.0,319.4 88.9,319.4 89.8,319.4 90.7,319.4 91.5,319.4 92.4,319.4 93.3,319.4 94.2,319.4 95.0,319.4 95.9,319.4 96.8,319.4 97.7,319.4 98.6,319.4 99.4,319.4 100.3,319.4 101.2,319.4 102.1,319.4 102.9,319.4 103.8,319.4 104.7,319.4 105.6,319.4 106.4,319.4 107.3,319.4 108.2,319.4 109.1,319.4 109.9,319.4 110.8,319.4 111.7,319.4 112.6,319.4 113.5,319.4 114.3,319.4 115.2,319.4 116.1,319.4 117.0,319.4 117.8,319.4 118.7,319.4 119.6,319.4 120.5,319.4 121.3,319.4 122.2,319.4 123.1,319.4 124.0,319.4 124.9,319.4 125.7,319.4 126.6,319.4 127.5,319.4 128.4,319.4 129.2,319.4 130.1,319.4 131.0,319.4 131.9,319.4 132.7,319.4 133.6,319.4 134.5,319.4 135.4,319.4 136.3,319.4 137.1,319.4 138.0,319.4 138.9,319.4 139.8,319.4 140.6,319.4 141.5,319.4 142.4,319.4 143.3,319.4 144.1,319.4 145.0,319.4 145.9,319.4 146.8,319.4 147.7,319.4 148.5,319.4 149.4,319.4 150.3,319.4 151.2,319.4 152.0,319.4 152.9,319.4 153.8,319.4 154.7,319.4 155.5,319.4 156.4,319.4 157.3,319.4 158.2,319.4 159.0,319.4 159.9,319.4 160.8,319.4 161.7,319.4 162.6,319.4 163.4,319.4 164.3,319.4 165.2,319.4 166.1,319.4 166.9,319.4 167.8,319.4 168.7,319.4 169.6,319.4 170.4,319.4 171.3,319.4 172.2,319.4 173.1,319.4 174.0,319.4 174.8,319.4 175.7,319.4 176.6,319.4 177.5,319.4 178.3,319.4 179.2,319.4 180.1,319.4 181.0,319.4 181.8,319.4 182.7,319.4 183.6,319.4 184.5,319.4 185.4,319.4 186.2,319.4 187.1,319.4 188.0,319.4 188.9,319.4 189.7,319.4 190.6,319.4 191.5,319.4 192.4,319.4 193.2,319.4 194.1,319.4 195.0,319.4 195.9,319.4 196.8,319.4 197.6,319.4 198.5,319.4 199.4,319.4 200.3,319.4 201.1,319.4 202.0,319.4 202.9,319.4 203.8,319.4 204.6,319.4 205.5,319.4 206.4,319.4 207.3,319.4 208.2,319.4 209.0,319.4 209.9,319.4 210.8,319.4 211.7,319.4 212.5,319.4 213.4,319.4 214.3,319.4 215.2,319.4 216.0,319.4 216.9,319.4 217.8,319.4 218.7,319.4 219.5,319.4 220.4,319.4 221.3,319.4 222.2,319.3 223.1,319.3 223.9,319.3 224.8,319.3 225.7,319.3 226.6,319.3 227.4,319.3 228.3,319.2 229.2,319.2 230.0,319.2 230.7,319.1 231.5,319.1 232.3,319.0 233.0,319.0 233.8,318.9 234.6,318.8 235.3,318.7 236.1,318.6 236.9,318.5 237.6,318.3 238.3,318.2 238.9,318.0 239.6,317.8 240.3,317.6 240.9,317.3 241.6,317.0 242.1,316.8 242.7,316.5 243.2,316.1 243.8,315.8 244.3,315.3 244.8,315.0 245.2,314.6 245.6,314.1 246.1,313.6 246.5,313.1 246.9,312.6 247.4,311.9 247.7,311.4 248.0,310.9 248.4,310.3 248.7,309.7 249.0,309.1 249.4,308.4 249.7,307.6 250.0,306.8 250.3,306.0 250.6,305.4 250.8,304.7 251.0,304.1 251.2,303.4 251.4,302.7 251.7,302.0 251.9,301.2 252.1,300.4 252.3,299.5 252.5,298.7 252.8,297.7 253.0,296.8 253.2,295.8 253.4,294.7 253.6,293.6 253.9,292.5 254.1,291.3 254.3,290.0 254.5,288.7 254.7,287.3 254.8,286.6 254.9,285.9 255.1,285.2 255.2,284.4 255.3,283.7 255.4,282.9 255.5,282.1 255.6,281.3 255.7,280.4 255.8,279.6 255.9,278.7 256.0,277.8 256.2,276.9 256.3,275.9 256.4,275.0 256.5,274.0 256.6,273.0 256.7,272.0 256.8,271.0 256.9,269.9 257.0,268.8 257.1,267.7 257.3,266.6 257.4,265.4 257.5,264.2 257.6,263.0 257.7,261.8 257.8,260.5 257.9,259.2 258.0,257.9 258.1,256.5 258.2,255.1 258.3,253.7 258.5,252.3 258.6,250.8 258.7,249.3 258.8,247.8 258.9,246.2 259.0,244.6 259.1,242.9 259.2,241.3 259.3,239.5 259.4,237.8 259.6,236.0 259.7,234.2 259.8,232.3 259.9,230.4 260.0,228.4 260.1,226.4 260.2,224.4 260.3,222.3 260.4,220.1 260.5,218.0 260.6,215.7 260.8,213.5 260.9,211.1 261.0,208.7 261.1,206.3 261.2,203.8 261.3,201.3 261.4,198.7 261.5,196.0 261.6,193.3 261.7,190.6 261.9,187.7 262.0,184.8 262.1,181.9 262.2,178.8 262.3,175.8 262.4,172.6 262.5,169.4 262.6,166.1 262.7,162.7 262.8,159.3 263.0,155.7 263.1,152.2 263.2,148.5 263.3,144.7 263.4,140.9 263.5,137.0 263.6,132.9 263.7,128.8 263.8,124.7 263.9,120.4 264.0,116.0 264.2,111.5 264.3,107.0 264.4,102.3 264.5,97.5 264.6,92.7 264.7,87.7 264.8,82.6 264.9,77.4 265.0,72.1 265.1,66.6 265.3,61.1 265.4,55.4 265.5,49.6 265.6,43.7 265.7,37.6 265.8,31.4 265.9,40.7 266.0,49.7 266.1,58.3 266.2,66.4 266.3,74.1 266.5,81.3 266.6,88.1 266.7,94.3 266.8,100.1 266.9,105.3 267.0,110.0 267.1,114.3 267.2,118.2 267.3,121.9 267.4,125.3 267.6,128.5 267.7,131.5 267.8,134.4 267.9,137.0 268.0,139.6 268.1,142.0 268.2,144.4 268.3,146.7 268.4,148.9 268.5,151.1 268.6,153.3 268.8,155.5 268.9,157.7 269.0,160.0 269.1,162.2 269.2,164.5 269.3,166.9 269.4,169.4 269.5,171.9 269.6,174.5 269.7,177.2 269.9,180.0 270.0,183.3 270.1,186.9 270.2,190.1 270.3,192.9 270.4,195.5 270.5,198.1 270.6,200.6 270.7,202.9 270.8,205.2 271.0,207.3 271.1,209.4 271.2,211.4 271.3,213.4 271.4,215.2 271.5,217.0 271.6,218.7 271.7,220.3 271.8,221.9 271.9,223.5 272.0,224.9 272.2,226.4 272.3,227.8 272.4,229.2 272.5,230.5 272.6,231.8 272.7,233.0 272.8,234.2 272.9,235.3 273.0,236.4 273.1,237.4 273.3,238.3 273.4,239.1 273.5,239.9 273.6,240.6 273.7,241.3 273.9,242.7 274.1,244.0 274.3,245.2 274.6,246.4 274.8,247.5 275.0,248.6 275.2,249.6 275.4,250.5 275.7,251.4 275.9,252.3 276.1,253.1 276.3,253.9 276.5,254.7 276.8,255.4 277.0,256.1 277.2,256.7 277.4,257.4 277.6,258.0 278.0,258.8 278.3,259.6 278.6,260.3 279.0,261.0 279.3,261.6 279.6,262.3 279.9,262.8 280.3,263.4 280.6,263.9 280.9,264.4 281.3,264.9 281.7,265.5 282.1,266.1 282.6,266.6 283.0,267.2 283.4,267.7 283.9,268.2 284.3,268.7 284.8,269.2 285.2,269.7 285.6,270.3 286.1,270.8 286.5,271.3 287.0,271.8 287.4,272.3 287.8,272.8 288.3,273.2 288.7,273.7 289.1,274.1 289.6,274.6 290.0,275.0 290.5,275.5 290.9,275.9 291.3,276.3 291.8,276.7 292.2,277.1 292.7,277.5 293.1,277.9 293.5,278.2 294.0,278.6 294.4,279.0 295.0,279.4 295.5,279.9 296.0,280.3 296.6,280.7 297.1,281.1 297.7,281.5 298.2,281.9 298.8,282.3 299.3,282.7 299.9,283.1 300.4,283.5 301.0,283.8 301.5,284.2 302.1,284.6 302.6,284.9 303.2,285.2 303.7,285.6 304.3,285.9 304.8,286.2 305.4,286.6 305.9,286.9 306.5,287.2 307.0,287.5 307.6,287.8 308.1,288.1 308.7,288.4 309.2,288.7 309.7,289.0 310.3,289.2 310.8,289.5 311.4,289.8 311.9,290.0 312.5,290.3 313.0,290.6 313.6,290.8 314.2,291.1 314.9,291.4 315.6,291.7 316.2,292.0 316.9,292.3 317.5,292.5 318.2,292.8 318.8,293.1 319.5,293.3 320.2,293.6 320.8,293.8 321.5,294.1 322.1,294.3 322.8,294.6 323.4,294.8 324.1,295.0 324.8,295.3 325.4,295.5 326.1,295.7 326.7,295.9 327.4,296.1 328.1,296.3 328.7,296.5 329.4,296.7 330.0,296.9 330.7,297.1 331.3,297.3 332.0,297.5 332.7,297.7 333.3,297.8 334.0,298.0 334.6,298.2 335.3,298.3 335.9,298.5 336.6,298.7 337.3,298.8 337.9,299.0 338.6,299.2 339.2,299.3 339.9,299.5 340.5,299.6 341.2,299.8 341.9,300.0 342.5,300.1 343.2,300.3 343.8,300.4 344.5,300.6 345.2,300.7 345.8,300.9 346.5,301.0 347.1,301.2 347.8,301.3 348.4,301.5 349.1,301.6 349.8,301.8 350.4,301.9 351.1,302.1 351.8,302.2 352.6,302.4 353.4,302.6 354.1,302.7 354.9,302.9 355.7,303.0 356.4,303.2 357.2,303.4 358.0,303.5 358.7,303.7 359.5,303.8 360.3,304.0 361.0,304.1 361.8,304.3 362.6,304.4 363.3,304.6 364.1,304.7 364.9,304.9 365.6,305.0 366.4,305.2 367.2,305.3 367.9,305.5 368.7,305.6 369.5,305.7 370.2,305.9 371.0,306.0 371.8,306.2 372.6,306.3 373.3,306.4 374.1,306.6 374.9,306.7 375.6,306.9 376.4,307.0 377.2,307.1 377.9,307.3 378.7,307.4 379.5,307.5 380.2,307.7 381.0,307.8 381.8,307.9 382.5,308.1 383.3,308.2 384.1,308.3 384.8,308.5 385.6,308.6 386.4,308.7 387.1,308.8 387.9,309.0 388.7,309.1 389.4,309.2 390.2,309.3 391.0,309.4 391.7,309.6 392.5,309.7 393.3,309.8 394.0,309.9 394.8,310.0 395.6,310.2 396.3,310.3 397.1,310.4 397.9,310.5 398.6,310.6 399.4,310.7 400.2,310.8 400.9,310.9 401.7,311.0 402.5,311.1 403.2,311.2 404.0,311.3 404.8,311.5 405.5,311.6 406.3,311.7 407.1,311.8 407.8,311.9 408.6,311.9 409.4,312.0 410.1,312.1 410.9,312.2 411.7,312.3 412.4,312.4 413.2,312.5 414.0,312.6 414.7,312.7 415.5,312.8 416.3,312.9 417.0,312.9 417.8,313.0 418.6,313.1 419.3,313.2 420.1,313.3 420.9,313.4 421.7,313.4 422.4,313.5 423.2,313.6 424.0,313.7 424.7,313.7 425.5,313.8 426.3,313.9 427.0,314.0 427.8,314.0 428.6,314.1 429.3,314.2 430.1,314.3 430.9,314.3 431.6,314.4 432.4,314.5 433.2,314.5 433.9,314.6 434.7,314.7 435.5,314.7 436.2,314.8 437.0,314.9 437.8,314.9 438.5,315.0 439.3,315.0 440.1,315.1 440.8,315.2 441.6,315.2 442.4,315.3 443.1,315.3 443.9,315.4 444.7,315.5 445.4,315.5 446.2,315.6 447.0,315.6 447.7,315.7 448.5,315.7 449.3,315.8 450.0,315.8 450.8,315.9 451.6,315.9 452.3,316.0 453.1,316.0 453.9,316.1 454.6,316.1 455.4,316.2 456.2,316.2 456.9,316.3 457.6,316.3" fill="none" stroke="#00ff00" stroke-width="1.80" stroke-linejoin="round" stroke-linecap="butt"/>
<polyline points="74.0,319.4 74.9,319.4 75.8,319.4 76.6,319.4 77.5,319.4 78.4,319.4 79.3,319.4 80.1,319.4 81.0,319.4 81.9,319.4 82.8,319.4 83.6,319.4 84.5,319.4 85.4,319.4 86.3,319.4 87.2,319.4 88.0,319.4 88.9,319.4 89.8,319.4 90.7,319.4 91.5,319.4 92.4,319.4 93.3,319.4 94.2,319.4 95.0,319.4 95.9,319.4 96.8,319.4 97.7,319.4 98.6,319.4 99.4,319.4 100.3,319.4 101.2,319.4 102.1,319.4 102.9,319.4 103.8,319.4 104.7,319.4 105.6,319.4 106.4,319.4 107.3,319.4 108.2,319.4 109.1,319.4 109.9,319.4 110.8,319.4 111.7,319.4 112.6,319.4 113.5,319.4 114.3,319.4 115.2,319.4 116.1,319.4 117.0,319.4 117.8,319.4 118.7,319.4 119.6,319.4 120.5,319.4 121.3,319.4 122.2,319.4 123.1,319.4 124.0,319.4 124.9,319.4 125.7,319.4 126.6,319.4 127.5,319.4 128.4,319.4 129.2,319.4 130.1,319.4 131.0,319.4 131.9,319.4 132.7,319.4 133.6,319.4 134.5,319.4 135.4,319.4 136.3,319.4 137.1,319.4 138.0,319.4 138.9,319.4 139.8,319.4 140.6,319.4 141.5,319.4 142.4,319.4 143.3,319.4 144.1,319.4 145.0,319.4 145.9,319.4 146.8,319.4 147.7,319.4 148.5,319.4 149.4,319.4 150.3,319.4 151.2,319.4 152.0,319.4 152.9,319.4 153.8,319.4 154.7,319.4 155.5,319.4 156.4,319.4 157.3,319.4 158.2,319.4 159.0,319.4 159.9,319.4 160.8,319.4 161.7,319.4 162.6,319.4 163.4,319.4 164.3,319.4 165.2,319.4 166.1,319.4 166.9,319.4 167.8,319.4 168.7,319.4 169.6,319.4 170.4,319.4 171.3,319.4 172.2,319.4 173.1,319.4 174.0,319.4 174.8,319.4 175.7,319.4 176.6,319.4 177.5,319.4 178.3,319.4 179.2,319.4 180.1,319.4 181.0,319.4 181.8,319.4 182.7,319.4 183.6,319.4 184.5,319.4 185.4,319.4 186.2,319.4 187.1,319.4 188.0,319.4 188.9,319.4 189.7,319.4 190.6,319.4 191.5,319.4 192.4,319.4 193.2,319.4 194.1,319.4 195.0,319.4 195.9,319.4 196.8,319.4 197.6,319.4 198.5,319.4 199.4,319.4 200.3,319.4 201.1,319.4 202.0,319.4 202.9,319.4 203.8,319.4 204.6,319.4 205.5,319.4 206.4,319.4 207.3,319.4 208.2,319.4 209.0,319.4 209.9,319.4 210.8,319.4 211.7,319.4 212.5,319.4 213.4,319.4 214.3,319.4 215.2,319.4 216.0,319.4 216.9,319.4 217.8,319.4 218.7,319.4 219.5,319.4 220.4,319.4 221.3,319.4 222.2,319.3 223.1,319.3 223.9,319.3 224.8,319.3 225.7,319.3 226.6,319.3 227.4,319.3 228.3,319.2 229.2,319.2 230.0,319.2 230.7,319.1 231.5,319.1 232.3,319.0 233.0,319.0 233.8,318.9 234.6,318.8 235.3,318.7 236.1,318.6 236.9,318.5 237.6,318.3 238.3,318.2 238.9,318.0 239.6,317.8 240.3,317.6 240.9,317.3 241.6,317.0 242.1,316.8 242.7,316.5 243.2,316.1 243.8,315.8 244.3,315.3 244.8,315.0 245.2,314.6 245.6,314.1 246.1,313.6 246.5,313.1 246.9,312.6 247.4,311.9 247.7,311.4 248.0,310.9 248.4,310.3 248.7,309.7 249.0,309.1 249.4,308.4 249.7,307.6 250.0,306.8 250.3,306.0 250.6,305.4 250.8,304.7 251.0,304.1 251.2,303.4 251.4,302.7 251.7,302.0 251.9,301.2 252.1,300.4 252.3,299.5 252.5,298.7 252.8,297.7 253.0,296.8 253.2,295.8 253.4,294.7 253.6,293.6 253.9,292.5 254.1,291.3 254.3,290.0 254.5,288.7 254.7,287.3 254.8,286.6 254.9,285.9 255.1,285.2 255.2,284.4 255.3,283.7 255.4,282.9 255.5,282.1 255.6,281.3 255.7,280.4 255.8,279.6 255.9,278.7 256.0,277.8 256.2,276.9 256.3,275.9 256.4,275.0 256.5,274.0 256.6,273.0 256.7,272.0 256.8,271.0 256.9,269.9 257.0,268.8 257.1,267.7 257.3,266.6 257.4,265.4 257.5,264.2 257.6,263.0 257.7,261.8 257.8,260.5 257.9,259.2 258.0,257.9 258.1,256.5 258.2,255.1 258.3,253.7 258.5,252.3 258.6,250.8 258.7,249.3 258.8,247.8 258.9,246.2 259.0,244.6 259.1,242.9 259.2,241.3 259.3,239.5 259.4,237.8 259.6,236.0 259.7,234.2 259.8,232.3 259.9,230.4 260.0,228.4 260.1,226.4 260.2,224.4 260.3,222.3 260.4,220.1 260.5,218.0 260.6,215.7 260.8,213.5 260.9,211.1 261.0,208.7 261.1,206.3 261.2,203.8 261.3,201.3 261.4,198.7 261.5,196.0 261.6,193.3 261.7,190.6 261.9,187.7 262.0,184.8 262.1,181.9 262.2,178.8 262.3,175.8 262.4,172.6 262.5,169.4 262.6,166.1 262.7,162.7 262.8,159.3 263.0,155.7 263.1,152.2 263.2,148.5 263.3,144.7 263.4,140.9 263.5,137.0 263.6,132.9 263.7,128.8 263.8,124.7 263.9,120.4 264.0,116.0 264.2,111.5 264.3,107.0 264.4,102.3 264.5,97.5 264.6,92.7 264.7,87.7 264.8,82.6 264.9,77.4 265.0,72.1 265.1,66.6 265.3,61.1 265.4,55.4 265.5,49.6 265.6,43.7 265.7,37.6 265.8,31.4 265.9,33.0 266.0,34.7 266.1,36.3 266.2,37.9 266.3,39.5 266.5,41.0 266.6,42.6 266.7,44.2 266.8,45.7 266.9,47.3 267.0,48.8 267.1,50.3 267.2,51.8 267.3,53.3 267.4,54.8 267.6,56.3 267.7,57.8 267.8,59.2 267.9,60.7 268.0,62.1 268.1,63.6 268.2,65.0 268.3,66.4 268.4,67.8 268.5,69.2 268.6,70.6 268.8,72.0 268.9,73.3 269.0,74.7 269.1,76.0 269.2,77.4 269.3,78.7 269.4,80.0 269.5,81.3 269.6,82.6 269.7,83.9 269.9,85.2 270.0,86.5 270.1,87.8 270.2,89.0 270.3,90.3 270.4,91.5 270.5,92.8 270.6,94.0 270.7,95.2 270.8,96.4 271.0,97.6 271.1,98.8 271.2,100.0 271.3,101.2 271.4,102.4 271.5,103.6 271.6,104.7 271.7,105.9 271.8,107.0 271.9,108.1 272.0,109.3 272.2,110.4 272.3,111.5 272.4,112.6 272.5,113.7 272.6,114.8 272.7,115.9 272.8,117.0 272.9,118.0 273.0,119.1 273.1,120.2 273.3,121.2 273.4,122.2 273.5,123.3 273.6,124.3 273.7,125.3 273.8,126.3 273.9,127.4 274.0,128.4 274.1,129.4 274.2,130.3 274.3,131.3 274.5,132.3 274.6,133.3 274.7,134.2 274.8,135.2 274.9,136.1 275.0,137.1 275.1,138.0 275.2,138.9 275.3,139.9 275.4,140.8 275.6,141.7 275.7,142.6 275.8,143.5 275.9,144.4 276.0,145.3 276.1,146.2 276.2,147.1 276.3,147.9 276.4,148.8 276.5,149.7 276.7,150.5 276.8,151.4 276.9,152.2 277.0,153.0 277.1,153.9 277.2,154.7 277.3,155.5 277.4,156.3 277.5,157.1 277.6,157.9 277.7,158.7 277.9,159.5 278.0,160.3 278.1,161.1 278.2,161.9 278.3,162.7 278.4,163.4 278.5,164.2 278.6,165.0 278.7,165.7 278.8,166.5 279.0,167.2 279.1,167.9 279.2,168.7 279.3,169.4 279.4,170.1 279.5,170.8 279.6,171.6 279.7,172.3 279.8,173.0 279.9,173.7 280.0,174.4 280.2,175.1 280.4,176.4 280.6,177.8 280.8,179.1 281.0,180.4 281.3,181.7 281.5,183.0 281.7,184.3 281.9,185.5 282.1,186.7 282.3,188.0 282.6,189.2 282.8,190.3 283.0,191.5 283.2,192.7 283.4,193.8 283.7,194.9 283.9,196.0 284.1,197.1 284.3,198.2 284.5,199.3 284.8,200.3 285.0,201.4 285.2,202.4 285.4,203.4 285.6,204.4 285.9,205.4 286.1,206.3 286.3,207.3 286.5,208.2 286.7,209.2 287.0,210.1 287.2,211.0 287.4,211.9 287.6,212.8 287.8,213.6 288.0,214.5 288.3,215.4 288.5,216.2 288.7,217.0 288.9,217.8 289.1,218.6 289.4,219.4 289.6,220.2 289.8,221.0 290.0,221.8 290.2,222.5 290.5,223.3 290.7,224.0 290.9,224.7 291.1,225.4 291.3,226.1 291.6,226.8 291.8,227.5 292.0,228.2 292.2,228.9 292.4,229.5 292.7,230.2 292.9,230.8 293.1,231.5 293.3,232.1 293.5,232.7 293.7,233.3 294.0,233.9 294.2,234.5 294.4,235.1 294.7,236.0 295.1,236.8 295.4,237.6 295.7,238.5 296.0,239.3 296.4,240.0 296.7,240.8 297.0,241.6 297.4,242.3 297.7,243.0 298.0,243.7 298.4,244.4 298.7,245.1 299.0,245.8 299.3,246.4 299.7,247.1 300.0,247.7 300.3,248.3 300.7,248.9 301.0,249.5 301.3,250.1 301.6,250.7 302.0,251.2 302.3,251.8 302.6,252.3 303.0,252.8 303.3,253.4 303.6,253.9 303.9,254.4 304.3,254.8 304.6,255.3 305.0,255.9 305.5,256.6 305.9,257.1 306.4,257.7 306.8,258.3 307.2,258.8 307.7,259.3 308.1,259.9 308.5,260.4 309.0,260.9 309.4,261.3 309.9,261.8 310.3,262.2 310.7,262.7 311.2,263.1 311.6,263.5 312.1,263.9 312.5,264.3 312.9,264.7 313.4,265.1 313.8,265.5 314.4,265.9 314.9,266.3 315.4,266.7 316.0,267.2 316.5,267.5 317.1,267.9 317.6,268.3 318.2,268.6 318.7,269.0 319.3,269.3 319.8,269.6 320.4,269.9 320.9,270.2 321.5,270.5 322.0,270.8 322.6,271.1 323.1,271.3 323.7,271.6 324.3,271.9 325.0,272.1 325.6,272.4 326.3,272.7 327.0,272.9 327.6,273.2 328.3,273.4 328.9,273.6 329.6,273.8 330.2,274.0 330.9,274.2 331.6,274.4 332.2,274.6 332.9,274.8 333.5,274.9 334.2,275.1 334.8,275.3 335.5,275.4 336.2,275.6 336.9,275.7 337.7,275.9 338.5,276.0 339.2,276.1 340.0,276.3 340.8,276.4 341.5,276.5 342.3,276.6 343.1,276.8 343.8,276.9 344.6,277.0 345.4,277.1 346.1,277.1 346.9,277.2 347.7,277.3 348.4,277.4 349.2,277.5 350.0,277.5 350.7,277.6 351.5,277.7 352.3,277.7 353.0,277.8 353.8,277.9 354.6,277.9 355.3,278.0 356.1,278.0 356.9,278.1 357.6,278.1 358.4,278.2 359.2,278.2 359.9,278.2 360.7,278.3 361.5,278.3 362.2,278.4 363.0,278.4 363.9,278.4 364.8,278.5 365.6,278.5 366.5,278.5 367.4,278.5 368.3,278.6 369.2,278.6 370.0,278.6 370.9,278.6 371.8,278.7 372.7,278.7 373.5,278.7 374.4,278.7 375.3,278.7 376.2,278.8 377.0,278.8 377.9,278.8 378.8,278.8 379.7,278.8 380.6,278.8 381.4,278.9 382.3,278.9 383.2,278.9 384.1,278.9 384.9,278.9 385.8,278.9 386.7,278.9 387.6,278.9 388.4,278.9 389.3,278.9 390.2,278.9 391.1,279.0 391.9,279.0 392.8,279.0 393.7,279.0 394.6,279.0 395.5,279.0 396.3,279.0 397.2,279.0 398.1,279.0 399.0,279.0 399.8,279.0 400.7,279.0 401.6,279.0 402.5,279.0 403.3,279.0 404.2,279.0 405.1,279.0 406.0,279.0 406.9,279.0 407.7,279.0 408.6,279.0 409.5,279.0 410.4,279.0 411.2,279.0 412.1,279.0 413.0,279.0 413.9,279.0 414.7,279.0 415.6,279.1 416.5,279.1 417.4,279.1 418.3,279.1 419.1,279.1 420.0,279.1 420.9,279.1 421.8,279.1 422.6,279.1 423.5,279.1 424.4,279.1 425.3,279.1 426.1,279.1 427.0,279.1 427.9,279.1 428.8,279.1 429.7,279.1 430.5,279.1 431.4,279.1 432.3,279.1 433.2,279.1 434.0,279.1 434.9,279.1 435.8,279.1 436.7,279.1 437.5,279.1 438.4,279.1 439.3,279.1 440.2,279.1 441.1,279.1 441.9,279.1 442.8,279.1 443.7,279.1 444.6,279.1 445.4,279.1 446.3,279.1 447.2,279.1 448.1,279.1 448.9,279.1 449.8,279.1 450.7,279.1 451.6,279.1 452.4,279.1 453.3,279.1 454.2,279.1 455.1,279.1 456.0,279.1 456.8,279.1 457.6,279.1" fill="none" stroke="#0000ff" stroke-width="1.80" stroke-linejoin="round" stroke-linecap="butt"/>
<polyline points="74.0,603.1 74.9,603.1 75.8,603.1 76.6,603.1 77.5,603.1 78.4,603.1 79.3,603.1 80.1,603.1 81.0,603.1 81.9,603.1 82.8,603.1 83.6,603.1 84.5,603.1 85.4,603.1 86.3,603.1 87.2,603.1 88.0,603.1 88.9,603.1 89.8,603.1 90.7,603.1 91.5,603.1 92.4,603.1 93.3,603.1 94.2,603.1 95.0,603.1 95.9,603.1 96.8,603.1 97.7,603.1 98.6,603.1 99.4,603.1 100.3,603.1 101.2,603.1 102.1,603.1 102.9,603.1 103.8,603.1 104.7,603.1 105.6,603.1 106.4,603.1 107.3,603.1 108.2,603.1 109.1,603.1 109.9,603.1 110.8,603.1 111.7,603.1 112.6,603.1 113.5,603.1 114.3,603.1 115.2,603.1 116.1,603.1 117.0,603.1 117.8,603.1 118.7,603.1 119.6,603.1 120.5,603.1 121.3,603.1 122.2,603.1 123.1,603.1 124.0,603.1 124.9,603.1 125.7,603.1 126.6,603.1 127.5,603.1 128.4,603.1 129.2,603.1 130.1,603.1 131.0,603.1 131.9,603.1 132.7,603.1 133.6,603.1 134.5,603.1 135.4,603.1 136.3,603.1 137.1,603.1 138.0,603.1 138.9,603.1 139.8,603.1 140.6,603.1 141.5,603.1 142.4,603.1 143.3,603.1 144.1,603.1 145.0,603.1 145.9,603.1 146.8,603.1 147.7,603.1 148.5,603.1 149.4,603.1 150.3,603.1 151.2,603.1 152.0,603.1 152.9,603.1 153.8,603.1 154.7,603.1 155.5,603.1 156.4,603.1 157.3,603.1 158.2,603.1 159.0,603.1 159.9,603.1 160.8,603.1 161.7,603.1 162.6,603.1 163.4,603.1 164.3,603.1 165.2,603.1 166.1,603.1 166.9,603.1 167.8,603.1 168.7,603.1 169.6,603.1 170.4,603.1 171.3,603.1 172.2,603.1 173.1,603.1 174.0,603.1 174.8,603.1 175.7,603.1 176.6,603.1 177.5,603.1 178.3,603.1 179.2,603.1 180.1,603.1 181.0,603.1 181.8,603.1 182.7,603.1 183.6,603.1 184.5,603.1 185.4,603.1 186.2,603.1 187.1,603.1 188.0,603.1 188.9,603.1 189.7,603.1 190.6,603.1 191.5,603.1 192.4,603.1 193.2,603.1 194.1,603.1 195.0,603.1 195.9,603.1 196.8,603.1 197.6,603.1 198.5,603.1 199.4,603.1 200.3,603.1 201.1,603.1 202.0,603.1 202.9,603.1 203.8,603.1 204.6,603.1 205.5,603.1 206.4,603.1 207.3,603.1 208.2,603.1 209.0,603.1 209.9,603.1 210.8,603.1 211.7,603.1 212.5,603.1 213.4,603.1 214.3,603.1 215.2,603.1 216.0,603.1 216.9,603.1 217.8,603.1 218.7,603.1 219.5,603.1 220.4,603.1 221.3,603.1 222.2,603.1 223.1,603.1 223.9,603.1 224.8,603.1 225.7,603.1 226.6,603.1 227.4,603.1 228.3,603.1 229.2,603.1 230.1,603.1 230.9,603.1 231.8,603.1 232.7,603.1 233.6,603.0 234.5,603.0 235.3,603.0 236.2,603.0 237.1,603.0 238.0,603.0 238.8,603.0 239.7,602.9 240.6,602.9 241.4,602.9 242.1,602.8 242.9,602.8 243.7,602.7 244.4,602.7 245.2,602.6 246.0,602.5 246.7,602.4 247.5,602.3 248.3,602.1 249.0,602.0 249.7,601.8 250.3,601.7 251.0,601.5 251.7,601.2 252.3,601.0 253.0,600.7 253.5,600.4 254.1,600.1 254.6,599.7 255.2,599.4 255.7,598.9 256.2,598.5 256.6,598.1 257.0,597.7 257.5,597.2 257.9,596.7 258.3,596.1 258.7,595.6 259.0,595.1 259.3,594.6 259.7,594.0 260.0,593.4 260.3,592.7 260.6,592.0 261.0,591.3 261.3,590.5 261.6,589.6 261.9,589.0 262.1,588.4 262.3,587.7 262.5,587.0 262.7,586.3 263.0,585.6 263.2,584.8 263.4,584.0 263.6,583.1 263.8,582.3 264.0,581.3 264.3,580.4 264.5,579.4 264.7,578.3 264.9,577.2 265.1,576.0 265.4,574.8 265.6,573.6 265.8,572.3 266.0,571.0 266.2,569.8 266.5,568.6 266.7,567.5 266.9,566.5 267.1,565.6 267.3,564.6 267.6,563.7 267.8,562.8 268.0,562.0 268.2,561.2 268.4,560.4 268.6,559.6 268.9,558.8 269.1,558.1 269.3,557.4 269.5,556.7 269.7,556.0 270.0,555.3 270.2,554.7 270.4,554.1 270.7,553.3 271.1,552.5 271.4,551.8 271.7,551.0 272.0,550.4 272.4,549.7 272.7,549.1 273.0,548.5 273.4,547.9 273.7,547.4 274.0,546.9 274.3,546.3 274.7,545.8 275.0,545.3 275.3,544.8 275.7,544.4 276.1,543.7 276.5,543.1 277.0,542.5 277.4,541.9 277.9,541.4 278.3,540.8 278.7,540.3 279.2,539.7 279.6,539.2 280.0,538.6 280.5,538.1 280.9,537.6 281.4,537.1 281.8,536.6 282.2,536.1 282.7,535.6 283.1,535.1 283.6,534.6 284.0,534.2 284.4,533.7 284.9,533.2 285.3,532.8 285.7,532.3 286.2,531.8 286.6,531.4 287.1,531.0 287.5,530.5 287.9,530.1 288.4,529.6 288.8,529.2 289.3,528.8 289.7,528.4 290.1,528.0 290.6,527.6 291.0,527.2 291.4,526.7 291.9,526.4 292.3,526.0 292.8,525.6 293.2,525.2 293.6,524.8 294.1,524.4 294.5,524.0 295.0,523.7 295.4,523.3 295.8,522.9 296.3,522.6 296.8,522.1 297.4,521.7 297.9,521.2 298.5,520.8 299.0,520.4 299.6,519.9 300.1,519.5 300.7,519.1 301.2,518.7 301.7,518.3 302.3,517.9 302.8,517.5 303.4,517.1 303.9,516.7 304.5,516.3 305.0,515.9 305.6,515.5 306.1,515.1 306.7,514.8 307.2,514.4 307.8,514.0 308.3,513.7 308.9,513.3 309.4,512.9 310.0,512.6 310.5,512.2 311.1,511.9 311.6,511.5 312.2,511.2 312.7,510.9 313.3,510.5 313.8,510.2 314.4,509.9 314.9,509.5 315.4,509.2 316.0,508.9 316.5,508.6 317.1,508.2 317.6,507.9 318.2,507.6 318.7,507.3 319.3,507.0 319.8,506.7 320.4,506.4 320.9,506.1 321.5,505.8 322.0,505.5 322.6,505.2 323.1,504.9 323.7,504.7 324.2,504.4 324.8,504.1 325.3,503.8 325.9,503.5 326.4,503.3 327.0,503.0 327.5,502.7 328.1,502.4 328.6,502.2 329.1,501.9 329.7,501.6 330.2,501.4 330.8,501.1 331.3,500.9 331.9,500.6 332.4,500.4 333.0,500.1 333.6,499.8 334.3,499.5 335.0,499.2 335.6,498.9 336.3,498.6 336.9,498.3 337.6,498.0 338.2,497.8 338.9,497.5 339.6,497.2 340.2,496.9 340.9,496.6 341.5,496.4 342.2,496.1 342.8,495.8 343.5,495.6 344.2,495.3 344.8,495.0 345.5,494.8 346.1,494.5 346.8,494.3 347.5,494.0 348.1,493.8 348.8,493.5 349.4,493.3 350.1,493.0 350.7,492.8 351.4,492.5 352.1,492.3 352.7,492.0 353.4,491.8 354.0,491.6 354.7,491.3 355.3,491.1 356.0,490.9 356.7,490.7 357.3,490.4 358.0,490.2 358.6,490.0 359.3,489.8 359.9,489.6 360.6,489.3 361.3,489.1 361.9,488.9 362.6,488.7 363.2,488.5 363.9,488.3 364.5,488.1 365.2,487.9 365.9,487.7 366.5,487.5 367.2,487.3 367.8,487.1 368.5,486.9 369.2,486.7 369.8,486.5 370.5,486.3 371.1,486.1 371.8,485.9 372.4,485.8 373.1,485.6 373.8,485.4 374.4,485.2 375.1,485.0 375.7,484.9 376.4,484.7 377.0,484.5 377.7,484.4 378.4,484.2 379.0,484.0 379.7,483.8 380.3,483.7 381.0,483.5 381.6,483.4 382.3,483.2 383.0,483.0 383.6,482.9 384.3,482.7 384.9,482.6 385.6,482.4 386.3,482.3 386.9,482.1 387.6,482.0 388.2,481.8 388.9,481.7 389.5,481.5 390.3,481.4 391.1,481.2 391.8,481.1 392.6,480.9 393.4,480.7 394.1,480.6 394.9,480.4 395.7,480.3 396.4,480.1 397.2,480.0 398.0,479.8 398.7,479.7 399.5,479.6 400.3,479.4 401.0,479.3 401.8,479.1 402.6,479.0 403.3,478.9 404.1,478.7 404.9,478.6 405.6,478.5 406.4,478.4 407.2,478.2 408.0,478.1 408.7,478.0 409.5,477.9 410.3,477.7 411.0,477.6 411.8,477.5 412.6,477.4 413.3,477.3 414.1,477.2 414.9,477.1 415.6,477.0 416.4,476.8 417.2,476.7 417.9,476.6 418.7,476.5 419.5,476.4 420.2,476.3 421.0,476.2 421.8,476.1 422.5,476.0 423.3,475.9 424.1,475.9 424.8,475.8 425.6,475.7 426.4,475.6 427.1,475.5 427.9,475.4 428.7,475.3 429.4,475.2 430.2,475.1 431.0,475.1 431.7,475.0 432.5,474.9 433.3,474.8 434.0,474.7 434.8,474.7 435.6,474.6 436.3,474.5 437.1,474.4 437.9,474.4 438.6,474.3 439.4,474.2 440.2,474.2 440.9,474.1 441.7,474.0 442.5,473.9 443.2,473.9 444.0,473.8 444.8,473.8 445.5,473.7 446.3,473.6 447.1,473.6 447.8,473.5 448.6,473.4 449.4,473.4 450.1,473.3 450.9,473.3 451.7,473.2 452.4,473.2 453.2,473.1 454.0,473.0 454.8,473.0 455.5,472.9 456.3,472.9 457.1,472.8 457.6,472.8" fill="none" stroke="#00ff00" stroke-width="1.80" stroke-linejoin="round" stroke-linecap="butt"/>
<polyline points="74.0,603.1 74.9,603.1 75.8,603.1 76.6,603.1 77.5,603.1 78.4,603.1 79.3,603.1 80.1,603.1 81.0,603.1 81.9,603.1 82.8,603.1 83.6,603.1 84.5,603.1 85.4,603.1 86.3,603.1 87.2,603.1 88.0,603.1 88.9,603.1 89.8,603.1 90.7,603.1 91.5,603.1 92.4,603.1 93.3,603.1 94.2,603.1 95.0,603.1 95.9,603.1 96.8,603.1 97.7,603.1 98.6,603.1 99.4,603.1 100.3,603.1 101.2,603.1 102.1,603.1 102.9,603.1 103.8,603.1 104.7,603.1 105.6,603.1 106.4,603.1 107.3,603.1 108.2,603.1 109.1,603.1 109.9,603.1 110.8,603.1 111.7,603.1 112.6,603.1 113.5,603.1 114.3,603.1 115.2,603.1 116.1,603.1 117.0,603.1 117.8,603.1 118.7,603.1 119.6,603.1 120.5,603.1 121.3,603.1 122.2,603.1 123.1,603.1 124.0,603.1 124.9,603.1 125.7,603.1 126.6,603.1 127.5,603.1 128.4,603.1 129.2,603.1 130.1,603.1 131.0,603.1 131.9,603.1 132.7,603.1 133.6,603.1 134.5,603.1 135.4,603.1 136.3,603.1 137.1,603.1 138.0,603.1 138.9,603.1 139.8,603.1 140.6,603.1 141.5,603.1 142.4,603.1 143.3,603.1 144.1,603.1 145.0,603.1 145.9,603.1 146.8,603.1 147.7,603.1 148.5,603.1 149.4,603.1 150.3,603.1 151.2,603.1 152.0,603.1 152.9,603.1 153.8,603.1 154.7,603.1 155.5,603.1 156.4,603.1 157.3,603.1 158.2,603.1 159.0,603.1 159.9,603.1 160.8,603.1 161.7,603.1 162.6,603.1 163.4,603.1 164.3,603.1 165.2,603.1 166.1,603.1 166.9,603.1 167.8,603.1 168.7,603.1 169.6,603.1 170.4,603.1 171.3,603.1 172.2,603.1 173.1,603.1 174.0,603.1 174.8,603.1 175.7,603.1 176.6,603.1 177.5,603.1 178.3,603.1 179.2,603.1 180.1,603.1 181.0,603.1 181.8,603.1 182.7,603.1 183.6,603.1 184.5,603.1 185.4,603.1 186.2,603.1 187.1,603.1 188.0,603.1 188.9,603.1 189.7,603.1 190.6,603.1 191.5,603.1 192.4,603.1 193.2,603.1 194.1,603.1 195.0,603.1 195.9,603.1 196.8,603.1 197.6,603.1 198.5,603.1 199.4,603.1 200.3,603.1 201.1,603.1 202.0,603.1 202.9,603.1 203.8,603.1 204.6,603.1 205.5,603.1 206.4,603.1 207.3,603.1 208.2,603.1 209.0,603.1 209.9,603.1 210.8,603.1 211.7,603.1 212.5,603.1 213.4,603.1 214.3,603.1 215.2,603.1 216.0,603.1 216.9,603.1 217.8,603.1 218.7,603.1 219.5,603.1 220.4,603.1 221.3,603.1 222.2,603.1 223.1,603.1 223.9,603.1 224.8,603.1 225.7,603.1 226.6,603.1 227.4,603.1 228.3,603.1 229.2,603.1 230.1,603.1 230.9,603.1 231.8,603.1 232.7,603.1 233.6,603.0 234.5,603.0 235.3,603.0 236.2,603.0 237.1,603.0 238.0,603.0 238.8,603.0 239.7,602.9 240.6,602.9 241.4,602.9 242.1,602.8 242.9,602.8 243.7,602.7 244.4,602.7 245.2,602.6 246.0,602.5 246.7,602.4 247.5,602.3 248.3,602.1 249.0,602.0 249.7,601.8 250.3,601.7 251.0,601.5 251.7,601.2 252.3,601.0 253.0,600.7 253.5,600.4 254.1,600.1 254.6,599.7 255.2,599.4 255.7,598.9 256.2,598.5 256.6,598.1 257.0,597.7 257.5,597.2 257.9,596.7 258.3,596.1 258.7,595.6 259.0,595.1 259.3,594.6 259.7,594.0 260.0,593.4 260.3,592.7 260.6,592.0 261.0,591.3 261.3,590.5 261.6,589.6 261.9,589.0 262.1,588.4 262.3,587.7 262.5,587.0 262.7,586.3 263.0,585.6 263.2,584.8 263.4,584.0 263.6,583.1 263.8,582.3 264.0,581.3 264.3,580.4 264.5,579.4 264.7,578.3 264.9,577.2 265.1,576.0 265.4,574.8 265.6,573.6 265.8,572.3 266.0,571.0 266.2,569.7 266.5,568.5 266.7,567.3 266.9,566.2 267.1,565.1 267.3,564.0 267.6,563.0 267.8,562.0 268.0,561.1 268.2,560.1 268.4,559.3 268.6,558.4 268.9,557.6 269.1,556.8 269.3,556.0 269.5,555.2 269.7,554.5 270.0,553.8 270.2,553.1 270.4,552.5 270.6,551.8 270.8,551.2 271.1,550.6 271.3,550.0 271.6,549.2 271.9,548.4 272.3,547.6 272.6,546.8 272.9,546.1 273.3,545.4 273.6,544.8 273.9,544.1 274.2,543.5 274.6,542.9 274.9,542.3 275.2,541.8 275.6,541.3 275.9,540.7 276.2,540.2 276.5,539.7 276.9,539.2 277.3,538.6 277.7,538.0 278.2,537.4 278.6,536.9 279.1,536.3 279.5,535.8 279.9,535.3 280.4,534.8 280.8,534.3 281.3,533.8 281.7,533.3 282.1,532.8 282.6,532.4 283.0,531.9 283.4,531.5 283.9,531.0 284.3,530.6 284.8,530.2 285.2,529.7 285.6,529.3 286.1,528.9 286.5,528.5 287.0,528.1 287.4,527.7 287.8,527.3 288.3,526.9 288.7,526.5 289.1,526.1 289.6,525.7 290.0,525.3 290.5,524.9 290.9,524.5 291.3,524.1 291.8,523.7 292.2,523.3 292.7,522.9 293.1,522.5 293.5,522.1 294.0,521.8 294.4,521.4 294.8,521.0 295.3,520.6 295.7,520.2 296.2,519.9 296.6,519.5 297.0,519.1 297.5,518.7 297.9,518.3 298.4,518.0 298.8,517.6 299.2,517.2 299.7,516.8 300.1,516.4 300.5,516.1 301.0,515.7 301.4,515.3 301.9,514.9 302.3,514.6 302.7,514.2 303.2,513.8 303.6,513.4 304.1,513.0 304.5,512.7 304.9,512.3 305.4,511.9 305.8,511.5 306.2,511.2 306.7,510.8 307.1,510.4 307.6,510.0 308.0,509.7 308.4,509.3 308.9,508.9 309.3,508.5 309.7,508.2 310.2,507.8 310.6,507.4 311.1,507.0 311.5,506.7 311.9,506.3 312.4,505.9 312.8,505.5 313.3,505.2 313.7,504.8 314.1,504.4 314.6,504.0 315.0,503.7 315.4,503.3 315.9,502.9 316.3,502.5 316.8,502.2 317.2,501.8 317.6,501.4 318.1,501.0 318.5,500.7 319.0,500.3 319.4,499.9 319.8,499.5 320.3,499.2 320.7,498.8 321.1,498.4 321.6,498.0 322.0,497.7 322.5,497.3 322.9,496.9 323.3,496.5 323.8,496.2 324.2,495.8 324.7,495.4 325.1,495.0 325.5,494.7 326.0,494.3 326.4,493.9 326.8,493.5 327.3,493.2 327.7,492.8 328.2,492.4 328.6,492.0 329.0,491.7 329.5,491.3 329.9,490.9 330.4,490.5 330.8,490.1 331.2,489.8 331.7,489.4 332.1,489.0 332.5,488.6 333.0,488.3 333.4,487.9 333.9,487.5 334.3,487.1 334.7,486.8 335.2,486.4 335.6,486.0 336.1,485.6 336.5,485.3 336.9,484.9 337.4,484.5 337.8,484.1 338.2,483.8 338.7,483.4 339.1,483.0 339.6,482.6 340.0,482.3 340.4,481.9 340.9,481.5 341.3,481.1 341.8,480.8 342.2,480.4 342.6,480.0 343.1,479.6 343.5,479.3 343.9,478.9 344.4,478.5 344.8,478.1 345.3,477.8 345.7,477.4 346.1,477.0 346.6,476.6 347.0,476.3 347.5,475.9 347.9,475.5 348.3,475.1 348.8,474.8 349.2,474.4 349.6,474.0 350.1,473.6 350.5,473.3 351.0,472.9 351.4,472.5 351.8,472.1 352.3,471.8 352.7,471.4 353.2,471.0 353.6,470.6 354.0,470.3 354.5,469.9 354.9,469.5 355.3,469.1 355.8,468.8 356.2,468.4 356.7,468.0 357.1,467.6 357.5,467.3 358.0,466.9 358.4,466.5 358.9,466.1 359.3,465.8 359.7,465.4 360.2,465.0 360.6,464.6 361.0,464.3 361.5,463.9 361.9,463.5 362.4,463.1 362.8,462.8 363.2,462.4 363.7,462.0 364.1,461.6 364.5,461.3 365.0,460.9 365.4,460.5 365.9,460.1 366.3,459.8 366.7,459.4 367.2,459.0 367.6,458.6 368.1,458.3 368.5,457.9 368.9,457.5 369.4,457.1 369.8,456.8 370.2,456.4 370.7,456.0 371.1,455.6 371.6,455.3 372.0,454.9 372.4,454.5 372.9,454.1 373.3,453.8 373.8,453.4 374.2,453.0 374.6,452.6 375.1,452.3 375.5,451.9 375.9,451.5 376.4,451.1 376.8,450.8 377.3,450.4 377.7,450.0 378.1,449.6 378.6,449.3 379.0,448.9 379.5,448.5 379.9,448.1 380.3,447.8 380.8,447.4 381.2,447.0 381.6,446.6 382.1,446.3 382.5,445.9 383.0,445.5 383.4,445.1 383.8,444.7 384.3,444.4 384.7,444.0 385.2,443.6 385.6,443.2 386.0,442.9 386.5,442.5 386.9,442.1 387.3,441.7 387.8,441.4 388.2,441.0 388.7,440.6 389.1,440.2 389.5,439.9 390.0,439.5 390.4,439.1 390.9,438.7 391.3,438.4 391.7,438.0 392.2,437.6 392.6,437.2 393.0,436.9 393.5,436.5 393.9,436.1 394.4,435.7 394.8,435.4 395.2,435.0 395.7,434.6 396.1,434.2 396.6,433.9 397.0,433.5 397.4,433.1 397.9,432.7 398.3,432.4 398.7,432.0 399.2,431.6 399.6,431.2 400.1,430.9 400.5,430.5 400.9,430.1 401.4,429.7 401.8,429.4 402.3,429.0 402.7,428.6 403.1,428.2 403.6,427.9 404.0,427.5 404.4,427.1 404.9,426.7 405.3,426.4 405.8,426.0 406.2,425.6 406.6,425.2 407.1,424.9 407.5,424.5 408.0,424.1 408.4,423.7 408.8,423.4 409.3,423.0 409.7,422.6 410.1,422.2 410.6,421.9 411.0,421.5 411.5,421.1 411.9,420.7 412.3,420.4 412.8,420.0 413.2,419.6 413.7,419.2 414.1,418.9 414.5,418.5 415.0,418.1 415.4,417.7 415.8,417.4 416.3,417.0 416.7,416.6 417.2,416.2 417.6,415.9 418.0,415.5 418.5,415.1 418.9,414.7 419.3,414.4 419.8,414.0 420.2,413.6 420.7,413.2 421.1,412.9 421.5,412.5 422.0,412.1 422.4,411.7 422.9,411.4 423.3,411.0 423.7,410.6 424.2,410.2 424.6,409.9 425.0,409.5 425.5,409.1 425.9,408.7 426.4,408.4 426.8,408.0 427.2,407.6 427.7,407.2 428.1,406.9 428.6,406.5 429.0,406.1 429.4,405.7 429.9,405.4 430.3,405.0 430.7,404.6 431.2,404.2 431.6,403.9 432.1,403.5 432.5,403.1 432.9,402.7 433.4,402.4 433.8,402.0 434.3,401.6 434.7,401.2 435.1,400.9 435.6,400.5 436.0,400.1 436.4,399.7 436.9,399.4 437.3,399.0 437.8,398.6 438.2,398.2 438.6,397.8 439.1,397.5 439.5,397.1 440.0,396.7 440.4,396.3 440.8,396.0 441.3,395.6 441.7,395.2 442.1,394.8 442.6,394.5 443.0,394.1 443.5,393.7 443.9,393.3 444.3,393.0 444.8,392.6 445.2,392.2 445.7,391.8 446.1,391.5 446.5,391.1 447.0,390.7 447.4,390.3 447.8,390.0 448.3,389.6 448.7,389.2 449.2,388.8 449.6,388.5 450.0,388.1 450.5,387.7 450.9,387.3 451.4,387.0 451.8,386.6 452.2,386.2 452.7,385.8 453.1,385.5 453.5,385.1 454.0,384.7 454.4,384.3 454.9,384.0 455.3,383.6 455.7,383.2 456.2,382.8 456.6,382.5 457.1,382.1 457.5,381.7 457.6,381.6" fill="none" stroke="#ff0000" stroke-width="1.80" stroke-linejoin="round" stroke-linecap="butt"/>
<polyline points="74.0,603.1 74.9,603.1 75.8,603.1 76.6,603.1 77.5,603.1 78.4,603.1 79.3,603.1 80.1,603.1 81.0,603.1 81.9,603.1 82.8,603.1 83.6,603.1 84.5,603.1 85.4,603.1 86.3,603.1 87.2,603.1 88.0,603.1 88.9,603.1 89.8,603.1 90.7,603.1 91.5,603.1 92.4,603.1 93.3,603.1 94.2,603.1 95.0,603.1 95.9,603.1 96.8,603.1 97.7,603.1 98.6,603.1 99.4,603.1 100.3,603.1 101.2,603.1 102.1,603.1 102.9,603.1 103.8,603.1 104.7,603.1 105.6,603.1 106.4,603.1 107.3,603.1 108.2,603.1 109.1,603.1 109.9,603.1 110.8,603.1 111.7,603.1 112.6,603.1 113.5,603.1 114.3,603.1 115.2,603.1 116.1,603.1 117.0,603.1 117.8,603.1 118.7,603.1 119.6,603.1 120.5,603.1 121.3,603.1 122.2,603.1 123.1,603.1 124.0,603.1 124.9,603.1 125.7,603.1 126.6,603.1 127.5,603.1 128.4,603.1 129.2,603.1 130.1,603.1 131.0,603.1 131.9,603.1 132.7,603.1 133.6,603.1 134.5,603.1 135.4,603.1 136.3,603.1 137.1,603.1 138.0,603.1 138.9,603.1 139.8,603.1 140.6,603.1 141.5,603.1 142.4,603.1 143.3,603.1 144.1,603.1 145.0,603.1 145.9,603.1 146.8,603.1 147.7,603.1 148.5,603.1 149.4,603.1 150.3,603.1 151.2,603.1 152.0,603.1 152.9,603.1 153.8,603.1 154.7,603.1 155.5,603.1 156.4,603.1 157.3,603.1 158.2,603.1 159.0,603.1 159.9,603.1 160.8,603.1 161.7,603.1 162.6,603.1 163.4,603.1 164.3,603.1 165.2,603.1 166.1,603.1 166.9,603.1 167.8,603.1 168.7,603.1 169.6,603.1 170.4,603.1 171.3,603.1 172.2,603.1 173.1,603.1 174.0,603.1 174.8,603.1 175.7,603.1 176.6,603.1 177.5,603.1 178.3,603.1 179.2,603.1 180.1,603.1 181.0,603.1 181.8,603.1 182.7,603.1 183.6,603.1 184.5,603.1 185.4,603.1 186.2,603.1 187.1,603.1 188.0,603.1 188.9,603.1 189.7,603.1 190.6,603.1 191.5,603.1 192.4,603.1 193.2,603.1 194.1,603.1 195.0,603.1 195.9,603.1 196.8,603.1 197.6,603.1 198.5,603.1 199.4,603.1 200.3,603.1 201.1,603.1 202.0,603.1 202.9,603.1 203.8,603.1 204.6,603.1 205.5,603.1 206.4,603.1 207.3,603.1 208.2,603.1 209.0,603.1 209.9,603.1 210.8,603.1 211.7,603.1 212.5,603.1 213.4,603.1 214.3,603.1 215.2,603.1 216.0,603.1 216.9,603.1 217.8,603.1 218.7,603.1 219.5,603.1 220.4,603.1 221.3,603.1 222.2,603.1 223.1,603.1 223.9,603.1 224.8,603.1 225.7,603.1 226.6,603.1 227.4,603.1 228.3,603.1 229.2,603.1 230.1,603.1 230.9,603.1 231.8,603.1 232.7,603.1 233.6,603.0 234.5,603.0 235.3,603.0 236.2,603.0 237.1,603.0 238.0,603.0 238.8,603.0 239.7,602.9 240.6,602.9 241.4,602.9 242.1,602.8 242.9,602.8 243.7,602.7 244.4,602.7 245.2,602.6 246.0,602.5 246.7,602.4 247.5,602.3 248.3,602.1 249.0,602.0 249.7,601.8 250.3,601.7 251.0,601.5 251.7,601.2 252.3,601.0 253.0,600.7 253.5,600.4 254.1,600.1 254.6,599.7 255.2,599.4 255.7,598.9 256.2,598.5 256.6,598.1 257.0,597.7 257.5,597.2 257.9,596.7 258.3,596.1 258.7,595.6 259.0,595.1 259.3,594.6 259.7,594.0 260.0,593.4 260.3,592.7 260.6,592.0 261.0,591.3 261.3,590.5 261.6,589.6 261.9,589.0 262.1,588.4 262.3,587.7 262.5,587.0 262.7,586.3 263.0,585.6 263.2,584.8 263.4,584.0 263.6,583.1 263.8,582.3 264.0,581.3 264.3,580.4 264.5,579.4 264.7,578.3 264.9,577.2 265.1,576.0 265.4,574.8 265.6,573.6 265.8,572.3 266.0,570.9 266.2,569.6 266.5,568.3 266.7,567.0 266.9,565.8 267.1,564.5 267.3,563.3 267.6,562.0 267.8,560.8 268.0,559.6 268.2,558.4 268.4,557.2 268.6,556.1 268.9,554.9 269.1,553.8 269.3,552.7 269.5,551.5 269.7,550.4 270.0,549.4 270.2,548.3 270.4,547.2 270.6,546.2 270.8,545.1 271.1,544.1 271.3,543.1 271.5,542.1 271.7,541.1 271.9,540.1 272.2,539.1 272.4,538.1 272.6,537.2 272.8,536.2 273.0,535.3 273.3,534.4 273.5,533.4 273.7,532.5 273.9,531.6 274.1,530.7 274.3,529.9 274.6,529.0 274.8,528.1 275.0,527.3 275.2,526.4 275.4,525.6 275.7,524.8 275.9,524.0 276.1,523.1 276.3,522.3 276.5,521.5 276.8,520.8 277.0,520.0 277.2,519.2 277.4,518.4 277.6,517.7 277.9,516.9 278.1,516.2 278.3,515.5 278.5,514.7 278.7,514.0 279.0,513.3 279.2,512.6 279.4,511.9 279.6,511.2 279.8,510.5 280.0,509.9 280.3,509.2 280.5,508.5 280.7,507.9 280.9,507.2 281.1,506.6 281.4,505.9 281.6,505.3 281.8,504.7 282.0,504.0 282.2,503.4 282.5,502.8 282.7,502.2 282.9,501.6 283.1,501.0 283.3,500.4 283.6,499.8 283.9,499.0 284.2,498.1 284.5,497.3 284.9,496.4 285.2,495.6 285.5,494.8 285.9,494.0 286.2,493.2 286.5,492.4 286.8,491.7 287.2,490.9 287.5,490.1 287.8,489.4 288.2,488.7 288.5,487.9 288.8,487.2 289.1,486.5 289.5,485.8 289.8,485.1 290.1,484.4 290.5,483.8 290.8,483.1 291.1,482.4 291.4,481.8 291.8,481.2 292.1,480.5 292.4,479.9 292.8,479.3 293.1,478.6 293.4,478.0 293.7,477.4 294.1,476.8 294.4,476.2 294.7,475.7 295.1,475.1 295.4,474.5 295.7,473.9 296.0,473.4 296.4,472.8 296.7,472.3 297.0,471.7 297.4,471.2 297.7,470.6 298.0,470.1 298.4,469.6 298.7,469.1 299.0,468.5 299.3,468.0 299.7,467.5 300.0,467.0 300.3,466.5 300.7,466.0 301.0,465.5 301.3,465.1 301.6,464.6 302.0,464.1 302.3,463.6 302.7,463.0 303.2,462.4 303.6,461.8 304.1,461.2 304.5,460.6 304.9,460.0 305.4,459.4 305.8,458.8 306.2,458.2 306.7,457.6 307.1,457.1 307.6,456.5 308.0,456.0 308.4,455.4 308.9,454.9 309.3,454.3 309.7,453.8 310.2,453.2 310.6,452.7 311.1,452.2 311.5,451.7 311.9,451.1 312.4,450.6 312.8,450.1 313.3,449.6 313.7,449.1 314.1,448.6 314.6,448.1 315.0,447.6 315.4,447.1 315.9,446.6 316.3,446.1 316.8,445.7 317.2,445.2 317.6,444.7 318.1,444.2 318.5,443.8 319.0,443.3 319.4,442.8 319.8,442.4 320.3,441.9 320.7,441.4 321.1,441.0 321.6,440.5 322.0,440.1 322.5,439.6 322.9,439.2 323.3,438.7 323.8,438.3 324.2,437.8 324.7,437.4 325.1,436.9 325.5,436.5 326.0,436.1 326.4,435.6 326.8,435.2 327.3,434.8 327.7,434.3 328.2,433.9 328.6,433.5 329.0,433.1 329.5,432.6 329.9,432.2 330.4,431.8 330.8,431.4 331.2,430.9 331.7,430.5 332.1,430.1 332.5,429.7 333.0,429.3 333.4,428.9 333.9,428.4 334.3,428.0 334.7,427.6 335.2,427.2 335.6,426.8 336.1,426.4 336.5,426.0 336.9,425.6 337.4,425.2 337.8,424.8 338.2,424.4 338.7,424.0 339.1,423.6 339.6,423.2 340.0,422.8 340.4,422.4 340.9,422.0 341.3,421.6 341.8,421.2 342.2,420.8 342.6,420.4 343.1,420.0 343.5,419.6 343.9,419.2 344.4,418.8 344.8,418.4 345.3,418.0 345.7,417.6 346.1,417.2 346.6,416.8 347.0,416.4 347.5,416.0 347.9,415.6 348.3,415.2 348.8,414.8 349.2,414.5 349.6,414.1 350.1,413.7 350.5,413.3 351.0,412.9 351.4,412.5 351.8,412.1 352.3,411.7 352.7,411.3 353.2,411.0 353.6,410.6 354.0,410.2 354.5,409.8 354.9,409.4 355.3,409.0 355.8,408.6 356.2,408.3 356.7,407.9 357.1,407.5 357.5,407.1 358.0,406.7 358.4,406.3 358.9,406.0 359.3,405.6 359.7,405.2 360.2,404.8 360.6,404.4 361.0,404.0 361.5,403.7 361.9,403.3 362.4,402.9 362.8,402.5 363.2,402.1 363.7,401.7 364.1,401.4 364.5,401.0 365.0,400.6 365.4,400.2 365.9,399.8 366.3,399.5 366.7,399.1 367.2,398.7 367.6,398.3 368.1,397.9 368.5,397.6 368.9,397.2 369.4,396.8 369.8,396.4 370.2,396.0 370.7,395.7 371.1,395.3 371.6,394.9 372.0,394.5 372.4,394.1 372.9,393.8 373.3,393.4 373.8,393.0 374.2,392.6 374.6,392.3 375.1,391.9 375.5,391.5 375.9,391.1 376.4,390.7 376.8,390.4 377.3,390.0 377.7,389.6 378.1,389.2 378.6,388.8 379.0,388.5 379.5,388.1 379.9,387.7 380.3,387.3 380.8,387.0 381.2,386.6 381.6,386.2 382.1,385.8 382.5,385.5 383.0,385.1 383.4,384.7 383.8,384.3 384.3,383.9 384.7,383.6 385.2,383.2 385.6,382.8 386.0,382.4 386.5,382.1 386.9,381.7 387.3,381.3 387.8,380.9 388.2,380.6 388.7,380.2 389.1,379.8 389.5,379.4 390.0,379.0 390.4,378.7 390.9,378.3 391.3,377.9 391.7,377.5 392.2,377.2 392.6,376.8 393.0,376.4 393.5,376.0 393.9,375.7 394.4,375.3 394.8,374.9 395.2,374.5 395.7,374.2 396.1,373.8 396.6,373.4 397.0,373.0 397.4,372.6 397.9,372.3 398.3,371.9 398.7,371.5 399.2,371.1 399.6,370.8 400.1,370.4 400.5,370.0 400.9,369.6 401.4,369.3 401.8,368.9 402.3,368.5 402.7,368.1 403.1,367.8 403.6,367.4 404.0,367.0 404.4,366.6 404.9,366.3 405.3,365.9 405.8,365.5 406.2,365.1 406.6,364.8 407.1,364.4 407.5,364.0 408.0,363.6 408.4,363.3 408.8,362.9 409.3,362.5 409.7,362.1 410.1,361.8 410.6,361.4 411.0,361.0 411.5,360.6 411.9,360.2 412.3,359.9 412.8,359.5 413.2,359.1 413.7,358.7 414.1,358.4 414.5,358.0 415.0,357.6 415.4,357.2 415.8,356.9 416.3,356.5 416.7,356.1 417.2,355.7 417.6,355.4 418.0,355.0 418.5,354.6 418.9,354.2 419.3,353.9 419.8,353.5 420.2,353.1 420.7,352.7 421.1,352.4 421.5,352.0 422.0,351.6 422.4,351.2 422.9,350.9 423.3,350.5 423.7,350.1 424.2,349.7 424.6,349.4 425.0,349.0 425.5,348.6 425.9,348.2 426.4,347.9 426.8,347.5 427.2,347.1 427.7,346.7 428.1,346.4 428.6,346.0 429.0,345.6 429.4,345.2 429.9,344.9 430.3,344.5 430.7,344.1 431.2,343.7 431.6,343.4 432.1,343.0 432.5,342.6 432.9,342.2 433.4,341.9 433.8,341.5 434.3,341.1 434.7,340.7 435.1,340.4 435.6,340.0 436.0,339.6 436.4,339.2 436.9,338.9 437.3,338.5 437.8,338.1 438.2,337.7 438.6,337.4 439.1,337.0 439.5,336.6 440.0,336.2 440.4,335.9 440.8,335.5 441.3,335.1 441.7,334.7 442.1,334.4 442.6,334.0 443.0,333.6 443.5,333.2 443.9,332.8 444.3,332.5 444.8,332.1 445.2,331.7 445.7,331.3 446.1,331.0 446.5,330.6 447.0,330.2 447.4,329.8 447.8,329.5 448.3,329.1 448.7,328.7 449.2,328.3 449.6,328.0 450.0,327.6 450.5,327.2 450.9,326.8 451.4,326.5 451.8,326.1 452.2,325.7 452.7,325.3 453.1,325.0 453.5,324.6 454.0,324.2 454.4,323.8 454.9,323.5 455.3,323.1 455.7,322.7 456.2,322.3 456.6,322.0 457.1,321.6 457.5,321.2 457.6,321.1" fill="none" stroke="#0000ff" stroke-width="1.80" stroke-linejoin="round" stroke-linecap="butt"/>
<polyline points="513.0,310.2 513.8,310.1 514.6,310.1 515.4,310.0 516.2,309.9 517.0,309.9 517.8,309.8 518.6,309.7 519.5,309.6 520.3,309.5 521.1,309.4 521.8,309.3 522.5,309.2 523.2,309.1 523.9,309.0 524.6,308.8 525.3,308.7 526.0,308.5 526.7,308.4 527.4,308.2 528.1,308.0 528.8,307.8 529.5,307.6 530.1,307.3 530.7,307.1 531.4,306.9 532.0,306.6 532.6,306.4 533.2,306.1 533.8,305.8 534.4,305.4 535.0,305.1 535.5,304.8 536.0,304.5 536.5,304.1 537.0,303.7 537.5,303.4 538.0,303.0 538.5,302.5 539.0,302.1 539.5,301.6 539.9,301.2 540.3,300.8 540.7,300.4 541.1,299.9 541.5,299.4 541.9,299.0 542.3,298.4 542.8,297.9 543.2,297.3 543.6,296.8 544.0,296.2 544.4,295.5 544.8,294.9 545.1,294.3 545.4,293.8 545.7,293.2 546.0,292.7 546.3,292.1 546.6,291.5 546.9,290.9 547.2,290.2 547.5,289.5 547.8,288.9 548.1,288.1 548.4,287.4 548.7,286.6 549.0,285.9 549.3,285.1 549.6,284.2 549.9,283.4 550.2,282.5 550.4,281.9 550.6,281.2 550.8,280.6 551.0,279.9 551.2,279.3 551.4,278.6 551.6,277.9 551.8,277.2 552.0,276.5 552.2,275.7 552.4,275.0 552.6,274.2 552.8,273.4 553.0,272.6 553.2,271.8 553.4,270.9 553.6,270.1 553.8,269.2 554.0,268.3 554.2,267.5 554.4,266.8 554.7,266.2 554.9,265.5 555.1,264.9 555.3,264.2 555.5,263.6 555.7,263.0 555.9,262.4 556.2,261.5 556.5,260.6 556.8,259.8 557.1,258.9 557.4,258.1 557.7,257.3 558.0,256.6 558.3,255.8 558.6,255.1 558.9,254.3 559.2,253.6 559.5,252.9 559.8,252.2 560.1,251.6 560.4,250.9 560.7,250.3 561.0,249.7 561.3,249.1 561.6,248.5 561.9,247.9 562.2,247.3 562.5,246.7 562.8,246.2 563.1,245.7 563.4,245.1 563.7,244.6 564.0,244.1 564.4,243.4 564.8,242.8 565.2,242.2 565.6,241.6 566.0,241.0 566.5,240.4 566.9,239.8 567.3,239.3 567.7,238.7 568.1,238.2 568.5,237.7 568.9,237.2 569.3,236.7 569.7,236.2 570.1,235.7 570.5,235.2 570.9,234.8 571.3,234.3 571.7,233.9 572.1,233.5 572.5,233.1 572.9,232.6 573.3,232.2 573.7,231.8 574.2,231.4 574.7,230.9 575.2,230.4 575.7,230.0 576.2,229.5 576.7,229.1 577.2,228.6 577.7,228.2 578.2,227.8 578.8,227.4 579.3,227.0 579.8,226.6 580.3,226.2 580.8,225.8 581.3,225.4 581.8,225.1 582.3,224.7 582.8,224.3 583.3,224.0 583.8,223.6 584.3,223.3 584.8,222.9 585.3,222.6 585.8,222.2 586.3,221.9 586.8,221.5 587.3,221.2 587.8,220.9 588.3,220.6 588.8,220.2 589.3,219.9 589.8,219.6 590.4,219.3 590.9,219.0 591.4,218.6 591.9,218.3 592.4,218.0 592.9,217.7 593.4,217.4 593.9,217.1 594.4,216.8 594.9,216.5 595.4,216.2 595.9,215.9 596.4,215.6 596.9,215.3 597.4,215.0 597.9,214.7 598.4,214.4 599.0,214.0 599.6,213.7 600.2,213.3 600.8,213.0 601.4,212.6 602.1,212.3 602.7,211.9 603.3,211.6 603.9,211.2 604.5,210.9 605.1,210.6 605.7,210.2 606.3,209.9 606.9,209.5 607.5,209.2 608.1,208.8 608.7,208.5 609.3,208.1 609.9,207.8 610.5,207.4 611.1,207.1 611.7,206.8 612.3,206.4 612.9,206.1 613.5,205.7 614.2,205.4 614.8,205.0 615.4,204.7 616.0,204.4 616.6,204.0 617.2,203.7 617.8,203.3 618.4,203.0 619.0,202.6 619.6,202.3 620.2,202.0 620.8,201.6 621.4,201.3 622.0,200.9 622.6,200.6 623.2,200.2 623.8,199.9 624.4,199.6 625.0,199.2 625.6,198.9 626.3,198.5 626.9,198.2 627.5,197.8 628.1,197.5 628.7,197.2 629.3,196.8 629.9,196.5 630.5,196.1 631.1,195.8 631.7,195.4 632.3,195.1 632.9,194.8 633.5,194.4 634.4,193.9 635.2,193.4 636.0,193.0 636.8,192.5 637.7,192.1 638.5,191.6 639.3,191.1 640.1,190.7 640.9,190.2 641.7,189.8 642.5,189.3 643.3,188.8 644.1,188.4 644.9,187.9 645.7,187.5 646.5,187.0 647.3,186.5 648.1,186.1 648.9,185.6 649.8,185.2 650.6,184.7 651.4,184.2 652.2,183.8 653.0,183.3 653.8,182.9 654.6,182.4 655.4,181.9 656.2,181.5 657.0,181.0 657.8,180.6 658.6,180.1 659.4,179.6 660.2,179.2 661.0,178.7 661.9,178.2 662.7,177.8 663.5,177.3 664.3,176.9 665.1,176.4 665.9,175.9 666.7,175.5 667.5,175.0 668.3,174.6 669.1,174.1 669.9,173.6 670.7,173.2 671.5,172.7 672.3,172.2 673.1,171.8 674.0,171.3 674.8,170.9 675.6,170.4 676.4,169.9 677.2,169.5 678.0,169.0 678.8,168.6 679.6,168.1 680.4,167.6 681.2,167.2 682.0,166.7 682.8,166.2 683.6,165.8 684.4,165.3 685.3,164.9 686.1,164.4 686.9,163.9 687.7,163.5 688.5,163.0 689.3,162.5 690.1,162.1 690.9,161.6 691.7,161.2 692.5,160.7 693.3,160.2 694.1,159.8 694.9,159.3 695.7,158.8 696.5,158.4 697.4,157.9 698.2,157.5 699.0,157.0 699.8,156.5 700.6,156.1 701.4,155.6 702.2,155.1 703.0,154.7 703.8,154.2 704.6,153.8 705.4,153.3 706.2,152.8 707.0,152.4 707.8,151.9 708.6,151.4 709.5,151.0 710.3,150.5 711.1,150.1 711.9,149.6 712.7,149.1 713.5,148.7 714.3,148.2 715.1,147.7 715.9,147.3 716.7,146.8 717.5,146.4 718.3,145.9 719.1,145.4 719.9,145.0 720.8,144.5 721.6,144.1 722.4,143.6 723.2,143.1 724.0,142.7 724.8,142.2 725.6,141.7 726.4,141.3 727.2,140.8 728.0,140.4 728.8,139.9 729.6,139.4 730.4,139.0 731.2,138.5 732.0,138.0 732.9,137.6 733.7,137.1 734.5,136.7 735.3,136.2 736.1,135.7 736.9,135.3 737.7,134.8 738.5,134.3 739.3,133.9 740.1,133.4 740.9,133.0 741.7,132.5 742.5,132.0 743.3,131.6 744.1,131.1 745.0,130.6 745.8,130.2 746.6,129.7 747.4,129.3 748.2,128.8 749.0,128.3 749.8,127.9 750.6,127.4 751.4,126.9 752.2,126.5 753.0,126.0 753.8,125.6 754.6,125.1 755.4,124.6 756.3,124.2 757.1,123.7 757.9,123.2 758.7,122.8 759.5,122.3 760.3,121.9 761.1,121.4 761.9,120.9 762.7,120.5 763.5,120.0 764.3,119.5 765.1,119.1 765.9,118.6 766.7,118.2 767.5,117.7 768.4,117.2 769.2,116.8 770.0,116.3 770.8,115.8 771.6,115.4 772.4,114.9 773.2,114.5 774.0,114.0 774.8,113.5 775.6,113.1 776.4,112.6 777.2,112.1 778.0,111.7 778.8,111.2 779.6,110.8 780.5,110.3 781.3,109.8 782.1,109.4 782.9,108.9 783.7,108.4 784.5,108.0 785.3,107.5 786.1,107.1 786.9,106.6 787.7,106.1 788.5,105.7 789.3,105.2 790.1,104.7 790.9,104.3 791.7,103.8 792.6,103.4 793.4,102.9 794.2,102.4 795.0,102.0 795.8,101.5 796.6,101.0 797.4,100.6 798.2,100.1 799.0,99.7 799.8,99.2 800.6,98.7 801.4,98.3 802.2,97.8 803.0,97.3 803.9,96.9 804.7,96.4 805.5,96.0 806.3,95.5 807.1,95.0 807.9,94.6 808.7,94.1 809.5,93.6 810.3,93.2 811.1,92.7 811.9,92.3 812.7,91.8 813.5,91.3 814.3,90.9 815.1,90.4 816.0,89.9 816.8,89.5 817.6,89.0 818.4,88.6 819.2,88.1 820.0,87.6 820.8,87.2 821.6,86.7 822.4,86.2 823.2,85.8 824.0,85.3 824.8,84.9 825.6,84.4 826.4,83.9 827.2,83.5 828.1,83.0 828.9,82.5 829.7,82.1 830.5,81.6 831.3,81.2 832.1,80.7 832.9,80.2 833.7,79.8 834.5,79.3 835.3,78.8 836.1,78.4 836.9,77.9 837.7,77.5 838.5,77.0 839.4,76.5 840.2,76.1 841.0,75.6 841.8,75.1 842.6,74.7 843.4,74.2 844.2,73.8 845.0,73.3 845.8,72.8 846.6,72.4 847.4,71.9 848.2,71.4 849.0,71.0 849.8,70.5 850.6,70.1 851.5,69.6 852.3,69.1 853.1,68.7 853.9,68.2 854.7,67.7 855.5,67.3 856.3,66.8 857.1,66.4 857.9,65.9 858.7,65.4 859.5,65.0 860.3,64.5 861.1,64.0 861.9,63.6 862.7,63.1 863.6,62.7 864.4,62.2 865.2,61.7 866.0,61.3 866.8,60.8 867.6,60.3 868.4,59.9 869.2,59.4 870.0,59.0 870.8,58.5 871.6,58.0 872.4,57.6 873.2,57.1 874.0,56.6 874.8,56.2 875.7,55.7 876.5,55.3 877.3,54.8 878.1,54.3 878.9,53.9 879.7,53.4 880.5,52.9 881.3,52.5 882.1,52.0 882.9,51.6 883.7,51.1 884.5,50.6 885.3,50.2 886.1,49.7 887.0,49.2 887.8,48.8 888.6,48.3 889.4,47.9 890.2,47.4 891.0,46.9 891.8,46.5 892.6,46.0 893.4,45.5 894.2,45.1 895.0,44.6 895.8,44.2 896.2,43.9" fill="none" stroke="#000000" stroke-width="1.80" stroke-linejoin="round" stroke-linecap="butt"/>
<polyline points="513.0,310.7 513.8,310.7 514.6,310.7 515.4,310.7 516.2,310.7 517.0,310.7 517.8,310.7 518.6,310.7 519.5,310.7 520.3,310.7 521.1,310.7 521.9,310.7 522.7,310.7 523.5,310.7 524.3,310.7 525.1,310.7 525.9,310.7 526.7,310.7 527.5,310.7 528.3,310.7 529.1,310.7 529.9,310.7 530.7,310.7 531.6,310.7 532.4,310.7 533.2,310.7 534.0,310.6 534.8,310.6 535.6,310.6 536.4,310.6 537.2,310.6 538.0,310.6 538.8,310.6 539.6,310.6 540.4,310.6 541.2,310.6 542.0,310.6 542.9,310.5 543.7,310.5 544.5,310.5 545.3,310.5 546.1,310.5 546.9,310.4 547.7,310.4 548.5,310.4 549.3,310.4 550.1,310.3 550.9,310.3 551.7,310.2 552.5,310.2 553.3,310.2 554.1,310.1 555.0,310.0 555.8,310.0 556.6,309.9 557.4,309.8 558.2,309.8 559.0,309.7 559.8,309.6 560.6,309.5 561.3,309.4 562.0,309.3 562.7,309.2 563.4,309.1 564.1,308.9 564.8,308.8 565.5,308.6 566.2,308.5 567.0,308.3 567.7,308.1 568.4,307.9 569.1,307.7 569.7,307.5 570.3,307.3 570.9,307.0 571.5,306.8 572.1,306.5 572.7,306.2 573.3,305.9 573.9,305.6 574.5,305.3 575.0,305.0 575.5,304.7 576.0,304.3 576.5,304.0 577.0,303.6 577.5,303.2 578.0,302.8 578.6,302.3 579.1,301.9 579.6,301.4 580.0,301.0 580.4,300.5 580.8,300.1 581.2,299.6 581.6,299.1 582.0,298.6 582.4,298.1 582.8,297.5 583.2,297.0 583.6,296.4 584.0,295.7 584.4,295.1 584.7,294.6 585.0,294.0 585.3,293.5 585.6,292.9 585.9,292.3 586.2,291.7 586.5,291.1 586.8,290.4 587.1,289.8 587.4,289.1 587.7,288.4 588.0,287.7 588.3,286.9 588.6,286.1 588.9,285.3 589.2,284.5 589.5,283.6 589.8,282.7 590.0,282.1 590.3,281.5 590.5,280.8 590.7,280.2 590.9,279.5 591.1,278.8 591.3,278.2 591.5,277.4 591.7,276.7 591.9,276.0 592.1,275.2 592.3,274.4 592.5,273.7 592.7,272.8 592.9,272.0 593.1,271.2 593.3,270.3 593.5,269.4 593.7,268.5 593.9,267.6 594.1,266.7 594.3,265.7 594.5,264.7 594.7,263.7 594.9,262.8 595.1,261.8 595.3,260.9 595.5,260.0 595.7,259.1 595.9,258.2 596.1,257.4 596.3,256.5 596.5,255.7 596.7,254.9 596.9,254.1 597.1,253.4 597.3,252.6 597.5,251.9 597.7,251.2 597.9,250.4 598.1,249.8 598.3,249.1 598.5,248.4 598.7,247.8 598.9,247.1 599.1,246.5 599.3,245.9 599.6,245.0 599.9,244.2 600.2,243.3 600.5,242.5 600.8,241.7 601.1,240.9 601.4,240.2 601.7,239.5 602.1,238.8 602.4,238.1 602.7,237.4 603.0,236.7 603.3,236.1 603.6,235.5 603.9,234.9 604.2,234.3 604.5,233.7 604.8,233.2 605.1,232.6 605.4,232.1 605.7,231.6 606.0,231.1 606.4,230.4 606.8,229.8 607.2,229.1 607.6,228.5 608.0,228.0 608.4,227.4 608.8,226.8 609.2,226.3 609.6,225.8 610.0,225.2 610.4,224.7 610.8,224.2 611.2,223.8 611.6,223.3 612.0,222.8 612.4,222.4 612.8,221.9 613.2,221.5 613.6,221.1 614.1,220.7 614.5,220.3 614.9,219.9 615.3,219.5 615.8,219.0 616.3,218.5 616.8,218.0 617.3,217.6 617.8,217.1 618.3,216.7 618.8,216.2 619.3,215.8 619.8,215.4 620.3,214.9 620.8,214.5 621.3,214.1 621.8,213.7 622.3,213.3 622.8,212.9 623.3,212.5 623.8,212.1 624.3,211.7 624.8,211.3 625.3,210.9 625.9,210.5 626.4,210.2 626.9,209.8 627.4,209.4 627.9,209.0 628.4,208.7 628.9,208.3 629.4,207.9 629.9,207.6 630.4,207.2 630.9,206.8 631.4,206.5 631.9,206.1 632.4,205.7 632.9,205.4 633.4,205.0 633.9,204.7 634.4,204.3 635.2,203.8 636.0,203.2 636.8,202.6 637.7,202.1 638.5,201.5 639.3,200.9 640.1,200.4 640.9,199.8 641.7,199.3 642.5,198.7 643.3,198.2 644.1,197.6 644.9,197.1 645.7,196.5 646.5,196.0 647.3,195.4 648.1,194.9 648.9,194.3 649.8,193.8 650.6,193.2 651.4,192.7 652.2,192.1 653.0,191.6 653.8,191.0 654.6,190.5 655.4,189.9 656.2,189.4 657.0,188.8 657.8,188.3 658.6,187.7 659.4,187.2 660.2,186.6 661.0,186.1 661.9,185.6 662.7,185.0 663.5,184.5 664.3,183.9 665.1,183.4 665.9,182.8 666.7,182.3 667.5,181.7 668.3,181.2 669.1,180.7 669.9,180.1 670.7,179.6 671.5,179.0 672.3,178.5 673.1,177.9 674.0,177.4 674.8,176.9 675.6,176.3 676.4,175.8 677.2,175.2 678.0,174.7 678.8,174.1 679.6,173.6 680.4,173.1 681.2,172.5 682.0,172.0 682.8,171.4 683.6,170.9 684.4,170.3 685.3,169.8 686.1,169.3 686.9,168.7 687.7,168.2 688.5,167.6 689.3,167.1 690.1,166.6 690.9,166.0 691.7,165.5 692.5,164.9 693.3,164.4 694.1,163.9 694.9,163.3 695.7,162.8 696.5,162.2 697.4,161.7 698.2,161.2 699.0,160.6 699.8,160.1 700.6,159.5 701.4,159.0 702.2,158.5 703.0,157.9 703.8,157.4 704.6,156.8 705.4,156.3 706.2,155.8 707.0,155.2 707.8,154.7 708.6,154.2 709.5,153.6 710.3,153.1 711.1,152.5 711.9,152.0 712.7,151.5 713.5,150.9 714.3,150.4 715.1,149.9 715.9,149.3 716.7,148.8 717.5,148.2 718.3,147.7 719.1,147.2 719.9,146.6 720.8,146.1 721.6,145.6 722.4,145.0 723.2,144.5 724.0,143.9 724.8,143.4 725.6,142.9 726.4,142.3 727.2,141.8 728.0,141.3 728.8,140.7 729.6,140.2 730.4,139.7 731.2,139.1 732.0,138.6 732.9,138.1 733.7,137.5 734.5,137.0 735.3,136.5 736.1,135.9 736.9,135.4 737.7,134.8 738.5,134.3 739.3,133.8 740.1,133.2 740.9,132.7 741.7,132.2 742.5,131.6 743.3,131.1 744.1,130.6 745.0,130.0 745.8,129.5 746.6,129.0 747.4,128.4 748.2,127.9 749.0,127.4 749.8,126.8 750.6,126.3 751.4,125.8 752.2,125.2 753.0,124.7 753.8,124.2 754.6,123.6 755.4,123.1 756.3,122.6 757.1,122.0 757.9,121.5 758.7,121.0 759.5,120.5 760.3,119.9 761.1,119.4 761.9,118.9 762.7,118.3 763.5,117.8 764.3,117.3 765.1,116.7 765.9,116.2 766.7,115.7 767.5,115.1 768.4,114.6 769.2,114.1 770.0,113.5 770.8,113.0 771.6,112.5 772.4,112.0 773.2,111.4 774.0,110.9 774.8,110.4 775.6,109.8 776.4,109.3 777.2,108.8 778.0,108.2 778.8,107.7 779.6,107.2 780.5,106.7 781.3,106.1 782.1,105.6 782.9,105.1 783.7,104.5 784.5,104.0 785.3,103.5 786.1,102.9 786.9,102.4 787.7,101.9 788.5,101.4 789.3,100.8 790.1,100.3 790.9,99.8 791.7,99.2 792.6,98.7 793.4,98.2 794.2,97.7 795.0,97.1 795.8,96.6 796.6,96.1 797.4,95.5 798.2,95.0 799.0,94.5 799.8,94.0 800.6,93.4 801.4,92.9 802.2,92.4 803.0,91.9 803.9,91.3 804.7,90.8 805.5,90.3 806.3,89.7 807.1,89.2 807.9,88.7 808.7,88.2 809.5,87.6 810.3,87.1 811.1,86.6 811.9,86.1 812.7,85.5 813.5,85.0 814.3,84.5 815.1,84.0 816.0,83.4 816.8,82.9 817.6,82.4 818.4,81.9 819.2,81.3 820.0,80.8 820.8,80.3 821.6,79.8 822.4,79.2 823.2,78.7 824.0,78.2 824.8,77.7 825.6,77.1 826.4,76.6 827.2,76.1 828.1,75.6 828.9,75.0 829.7,74.5 830.5,74.0 831.3,73.5 832.1,72.9 832.9,72.4 833.7,71.9 834.5,71.4 835.3,70.8 836.1,70.3 836.9,69.8 837.7,69.3 838.5,68.7 839.4,68.2 840.2,67.7 841.0,67.2 841.8,66.6 842.6,66.1 843.4,65.6 844.2,65.1 845.0,64.5 845.8,64.0 846.6,63.5 847.4,63.0 848.2,62.5 849.0,61.9 849.8,61.4 850.6,60.9 851.5,60.4 852.3,59.8 853.1,59.3 853.9,58.8 854.7,58.3 855.5,57.8 856.3,57.2 857.1,56.7 857.9,56.2 858.7,55.7 859.5,55.1 860.3,54.6 861.1,54.1 861.9,53.6 862.7,53.1 863.6,52.5 864.4,52.0 865.2,51.5 866.0,51.0 866.8,50.4 867.6,49.9 868.4,49.4 869.2,48.9 870.0,48.4 870.8,47.8 871.6,47.3 872.4,46.8 873.2,46.3 874.0,45.8 874.8,45.2 875.7,44.7 876.5,44.2 877.3,43.7 878.1,43.2 878.9,42.6 879.7,42.1 880.5,41.6 881.3,41.1 882.1,40.6 882.9,40.0 883.7,39.5 884.5,39.0 885.3,38.5 886.1,38.0 887.0,37.4 887.8,36.9 888.6,36.4 889.4,35.9 890.2,35.4 891.0,34.8 891.8,34.3 892.6,33.8 893.4,33.3 894.2,32.8 895.0,32.2 895.8,31.7 896.2,31.5" fill="none" stroke="#0000ff" stroke-width="1.80" stroke-linejoin="round" stroke-linecap="butt"/>
<polyline points="513.0,310.6 513.8,310.6 514.6,310.6 515.4,310.6 516.2,310.6 517.0,310.6 517.8,310.5 518.6,310.5 519.5,310.5 520.3,310.5 521.1,310.5 521.9,310.4 522.7,310.4 523.5,310.4 524.3,310.4 525.1,310.3 525.9,310.3 526.7,310.3 527.5,310.2 528.3,310.2 529.1,310.1 529.9,310.1 530.7,310.0 531.6,310.0 532.4,309.9 533.2,309.8 534.0,309.8 534.8,309.7 535.6,309.6 536.4,309.5 537.2,309.4 537.9,309.3 538.6,309.2 539.3,309.1 540.0,308.9 540.7,308.8 541.4,308.7 542.1,308.5 542.9,308.3 543.6,308.2 544.3,308.0 545.0,307.8 545.7,307.5 546.3,307.3 546.9,307.1 547.5,306.9 548.1,306.6 548.7,306.4 549.3,306.1 549.9,305.8 550.5,305.5 551.1,305.1 551.6,304.8 552.1,304.5 552.6,304.2 553.1,303.8 553.6,303.5 554.1,303.1 554.7,302.7 555.2,302.3 555.7,301.8 556.2,301.3 556.6,300.9 557.0,300.5 557.4,300.1 557.8,299.6 558.2,299.2 558.6,298.7 559.0,298.1 559.4,297.6 559.8,297.1 560.2,296.5 560.6,295.9 561.0,295.2 561.4,294.6 561.7,294.1 562.0,293.5 562.3,293.0 562.6,292.4 562.9,291.9 563.2,291.3 563.5,290.7 563.8,290.0 564.1,289.4 564.4,288.7 564.7,288.0 565.0,287.3 565.3,286.5 565.6,285.8 565.9,285.0 566.2,284.2 566.6,283.3 566.9,282.4 567.2,281.5 567.4,280.9 567.6,280.3 567.8,279.7 568.0,279.0 568.2,278.3 568.4,277.7 568.6,277.0 568.8,276.3 569.0,275.5 569.2,274.8 569.4,274.0 569.6,273.3 569.8,272.5 570.0,271.7 570.2,270.9 570.4,270.0 570.6,269.2 570.8,268.3 571.0,267.6 571.2,267.0 571.5,266.1 571.8,265.3 572.1,264.4 572.4,263.6 572.7,262.8 573.0,262.0 573.3,261.3 573.6,260.5 573.9,259.8 574.2,259.1 574.5,258.4 574.8,257.7 575.1,257.0 575.4,256.4 575.7,255.8 576.0,255.1 576.3,254.5 576.6,253.9 576.9,253.4 577.2,252.8 577.5,252.2 577.8,251.7 578.1,251.2 578.5,250.6 578.8,250.1 579.1,249.6 579.5,249.0 579.9,248.3 580.3,247.7 580.7,247.1 581.1,246.5 581.5,246.0 581.9,245.4 582.3,244.9 582.7,244.3 583.1,243.8 583.5,243.3 583.9,242.8 584.3,242.4 584.7,241.9 585.1,241.4 585.5,241.0 585.9,240.5 586.3,240.1 586.7,239.7 587.1,239.3 587.5,238.9 588.0,238.4 588.5,237.9 589.0,237.4 589.5,237.0 590.0,236.5 590.6,236.1 591.1,235.7 591.6,235.2 592.1,234.8 592.6,234.4 593.1,234.0 593.6,233.6 594.1,233.3 594.6,232.9 595.1,232.5 595.6,232.2 596.1,231.8 596.6,231.4 597.1,231.1 597.6,230.7 598.1,230.4 598.6,230.1 599.1,229.7 599.6,229.4 600.1,229.1 600.6,228.8 601.1,228.5 601.6,228.1 602.2,227.8 602.7,227.5 603.2,227.2 603.7,226.9 604.2,226.6 604.7,226.3 605.2,226.0 605.8,225.7 606.4,225.3 607.0,225.0 607.6,224.6 608.2,224.3 608.8,223.9 609.4,223.6 610.0,223.3 610.6,222.9 611.2,222.6 611.8,222.3 612.4,221.9 613.0,221.6 613.6,221.3 614.3,220.9 614.9,220.6 615.5,220.3 616.1,220.0 616.7,219.6 617.3,219.3 617.9,219.0 618.5,218.7 619.1,218.3 619.7,218.0 620.3,217.7 620.9,217.4 621.5,217.1 622.1,216.7 622.7,216.4 623.3,216.1 623.9,215.8 624.5,215.5 625.1,215.1 625.8,214.8 626.4,214.5 627.0,214.2 627.6,213.9 628.2,213.5 628.8,213.2 629.4,212.9 630.0,212.6 630.6,212.3 631.2,211.9 631.8,211.6 632.4,211.3 633.0,211.0 633.6,210.7 634.4,210.2 635.2,209.8 636.0,209.4 636.8,209.0 637.7,208.5 638.5,208.1 639.3,207.7 640.1,207.3 640.9,206.8 641.7,206.4 642.5,206.0 643.3,205.6 644.1,205.1 644.9,204.7 645.7,204.3 646.5,203.8 647.3,203.4 648.1,203.0 648.9,202.6 649.8,202.1 650.6,201.7 651.4,201.3 652.2,200.9 653.0,200.4 653.8,200.0 654.6,199.6 655.4,199.1 656.2,198.7 657.0,198.3 657.8,197.9 658.6,197.4 659.4,197.0 660.2,196.6 661.0,196.1 661.9,195.7 662.7,195.3 663.5,194.9 664.3,194.4 665.1,194.0 665.9,193.6 666.7,193.1 667.5,192.7 668.3,192.3 669.1,191.8 669.9,191.4 670.7,191.0 671.5,190.6 672.3,190.1 673.1,189.7 674.0,189.3 674.8,188.8 675.6,188.4 676.4,188.0 677.2,187.5 678.0,187.1 678.8,186.7 679.6,186.3 680.4,185.8 681.2,185.4 682.0,185.0 682.8,184.5 683.6,184.1 684.4,183.7 685.3,183.2 686.1,182.8 686.9,182.4 687.7,182.0 688.5,181.5 689.3,181.1 690.1,180.7 690.9,180.2 691.7,179.8 692.5,179.4 693.3,178.9 694.1,178.5 694.9,178.1 695.7,177.6 696.5,177.2 697.4,176.8 698.2,176.4 699.0,175.9 699.8,175.5 700.6,175.1 701.4,174.6 702.2,174.2 703.0,173.8 703.8,173.3 704.6,172.9 705.4,172.5 706.2,172.0 707.0,171.6 707.8,171.2 708.6,170.7 709.5,170.3 710.3,169.9 711.1,169.5 711.9,169.0 712.7,168.6 713.5,168.2 714.3,167.7 715.1,167.3 715.9,166.9 716.7,166.4 717.5,166.0 718.3,165.6 719.1,165.1 719.9,164.7 720.8,164.3 721.6,163.8 722.4,163.4 723.2,163.0 724.0,162.6 724.8,162.1 725.6,161.7 726.4,161.3 727.2,160.8 728.0,160.4 728.8,160.0 729.6,159.5 730.4,159.1 731.2,158.7 732.0,158.2 732.9,157.8 733.7,157.4 734.5,157.0 735.3,156.5 736.1,156.1 736.9,155.7 737.7,155.2 738.5,154.8 739.3,154.4 740.1,153.9 740.9,153.5 741.7,153.1 742.5,152.6 743.3,152.2 744.1,151.8 745.0,151.3 745.8,150.9 746.6,150.5 747.4,150.1 748.2,149.6 749.0,149.2 749.8,148.8 750.6,148.3 751.4,147.9 752.2,147.5 753.0,147.0 753.8,146.6 754.6,146.2 755.4,145.7 756.3,145.3 757.1,144.9 757.9,144.4 758.7,144.0 759.5,143.6 760.3,143.2 761.1,142.7 761.9,142.3 762.7,141.9 763.5,141.4 764.3,141.0 765.1,140.6 765.9,140.1 766.7,139.7 767.5,139.3 768.4,138.8 769.2,138.4 770.0,138.0 770.8,137.5 771.6,137.1 772.4,136.7 773.2,136.3 774.0,135.8 774.8,135.4 775.6,135.0 776.4,134.5 777.2,134.1 778.0,133.7 778.8,133.2 779.6,132.8 780.5,132.4 781.3,131.9 782.1,131.5 782.9,131.1 783.7,130.6 784.5,130.2 785.3,129.8 786.1,129.4 786.9,128.9 787.7,128.5 788.5,128.1 789.3,127.6 790.1,127.2 790.9,126.8 791.7,126.3 792.6,125.9 793.4,125.5 794.2,125.0 795.0,124.6 795.8,124.2 796.6,123.7 797.4,123.3 798.2,122.9 799.0,122.5 799.8,122.0 800.6,121.6 801.4,121.2 802.2,120.7 803.0,120.3 803.9,119.9 804.7,119.4 805.5,119.0 806.3,118.6 807.1,118.1 807.9,117.7 808.7,117.3 809.5,116.8 810.3,116.4 811.1,116.0 811.9,115.6 812.7,115.1 813.5,114.7 814.3,114.3 815.1,113.8 816.0,113.4 816.8,113.0 817.6,112.5 818.4,112.1 819.2,111.7 820.0,111.2 820.8,110.8 821.6,110.4 822.4,109.9 823.2,109.5 824.0,109.1 824.8,108.7 825.6,108.2 826.4,107.8 827.2,107.4 828.1,106.9 828.9,106.5 829.7,106.1 830.5,105.6 831.3,105.2 832.1,104.8 832.9,104.3 833.7,103.9 834.5,103.5 835.3,103.0 836.1,102.6 836.9,102.2 837.7,101.8 838.5,101.3 839.4,100.9 840.2,100.5 841.0,100.0 841.8,99.6 842.6,99.2 843.4,98.7 844.2,98.3 845.0,97.9 845.8,97.4 846.6,97.0 847.4,96.6 848.2,96.1 849.0,95.7 849.8,95.3 850.6,94.9 851.5,94.4 852.3,94.0 853.1,93.6 853.9,93.1 854.7,92.7 855.5,92.3 856.3,91.8 857.1,91.4 857.9,91.0 858.7,90.5 859.5,90.1 860.3,89.7 861.1,89.2 861.9,88.8 862.7,88.4 863.6,88.0 864.4,87.5 865.2,87.1 866.0,86.7 866.8,86.2 867.6,85.8 868.4,85.4 869.2,84.9 870.0,84.5 870.8,84.1 871.6,83.6 872.4,83.2 873.2,82.8 874.0,82.3 874.8,81.9 875.7,81.5 876.5,81.1 877.3,80.6 878.1,80.2 878.9,79.8 879.7,79.3 880.5,78.9 881.3,78.5 882.1,78.0 882.9,77.6 883.7,77.2 884.5,76.7 885.3,76.3 886.1,75.9 887.0,75.4 887.8,75.0 888.6,74.6 889.4,74.2 890.2,73.7 891.0,73.3 891.8,72.9 892.6,72.4 893.4,72.0 894.2,71.6 895.0,71.1 895.8,70.7 896.2,70.5" fill="none" stroke="#ff0000" stroke-width="1.80" stroke-linejoin="round" stroke-linecap="butt"/>
<polyline points="513.0,599.6 513.8,599.6 514.6,599.5 515.4,599.5 516.2,599.5 517.0,599.5 517.8,599.5 518.6,599.4 519.5,599.4 520.3,599.4 521.1,599.4 521.9,599.3 522.7,599.3 523.5,599.2 524.3,599.2 525.1,599.2 525.9,599.1 526.7,599.1 527.5,599.0 528.3,598.9 529.1,598.9 529.9,598.8 530.7,598.7 531.6,598.6 532.4,598.5 533.2,598.4 534.0,598.3 534.7,598.2 535.4,598.1 536.1,598.0 536.8,597.9 537.5,597.8 538.2,597.6 538.9,597.5 539.6,597.3 540.3,597.1 541.0,596.9 541.7,596.7 542.4,596.5 543.1,596.3 543.7,596.1 544.3,595.9 544.9,595.7 545.5,595.4 546.1,595.2 546.7,594.9 547.3,594.6 547.9,594.3 548.5,593.9 549.1,593.6 549.6,593.3 550.1,593.0 550.6,592.6 551.1,592.3 551.6,591.9 552.1,591.5 552.6,591.1 553.1,590.6 553.6,590.2 554.1,589.7 554.6,589.3 555.0,588.9 555.4,588.5 555.8,588.0 556.2,587.6 556.6,587.1 557.0,586.6 557.4,586.0 557.8,585.5 558.2,584.9 558.6,584.3 559.0,583.7 559.4,583.1 559.8,582.4 560.1,581.9 560.4,581.4 560.7,580.8 561.0,580.3 561.3,579.7 561.6,579.1 561.9,578.5 562.2,577.9 562.5,577.2 562.8,576.5 563.1,575.8 563.4,575.1 563.7,574.4 564.0,573.7 564.3,572.9 564.6,572.1 564.9,571.3 565.2,570.4 565.5,569.5 565.8,568.6 566.0,568.0 566.2,567.4 566.5,566.8 566.7,566.1 566.9,565.5 567.1,564.8 567.3,564.1 567.5,563.4 567.7,562.7 567.9,562.0 568.1,561.2 568.3,560.4 568.5,559.7 568.7,558.9 568.9,558.1 569.1,557.3 569.3,556.4 569.5,555.6 569.7,554.8 569.9,554.1 570.1,553.3 570.3,552.5 570.5,551.8 570.7,551.0 570.9,550.3 571.1,549.6 571.3,548.9 571.5,548.2 571.7,547.5 571.9,546.9 572.1,546.2 572.3,545.6 572.5,544.9 572.7,544.3 572.9,543.7 573.1,543.1 573.4,542.2 573.7,541.3 574.0,540.5 574.3,539.6 574.6,538.8 574.9,538.0 575.2,537.3 575.5,536.5 575.8,535.8 576.1,535.0 576.4,534.3 576.7,533.6 577.0,532.9 577.3,532.3 577.6,531.6 577.9,531.0 578.2,530.4 578.6,529.8 578.9,529.2 579.2,528.6 579.5,528.0 579.8,527.4 580.1,526.9 580.4,526.3 580.7,525.8 581.0,525.3 581.3,524.8 581.6,524.3 582.0,523.6 582.4,523.0 582.8,522.4 583.2,521.8 583.6,521.2 584.0,520.6 584.4,520.1 584.8,519.5 585.2,519.0 585.6,518.5 586.0,518.0 586.4,517.5 586.8,517.0 587.2,516.5 587.6,516.0 588.0,515.6 588.4,515.1 588.8,514.7 589.2,514.3 589.6,513.8 590.0,513.4 590.5,513.0 590.9,512.6 591.4,512.1 591.9,511.6 592.4,511.2 592.9,510.7 593.4,510.3 593.9,509.8 594.4,509.4 594.9,509.0 595.4,508.6 595.9,508.2 596.4,507.7 596.9,507.4 597.4,507.0 597.9,506.6 598.4,506.2 598.9,505.8 599.4,505.5 599.9,505.1 600.4,504.7 600.9,504.4 601.4,504.0 601.9,503.7 602.5,503.3 603.0,503.0 603.5,502.7 604.0,502.3 604.5,502.0 605.0,501.7 605.5,501.3 606.0,501.0 606.5,500.7 607.0,500.4 607.5,500.1 608.0,499.8 608.5,499.4 609.0,499.1 609.5,498.8 610.0,498.5 610.5,498.2 611.0,497.9 611.5,497.6 612.0,497.3 612.5,497.0 613.0,496.7 613.5,496.4 614.1,496.1 614.6,495.8 615.1,495.5 615.7,495.2 616.3,494.8 616.9,494.4 617.5,494.1 618.1,493.7 618.7,493.4 619.3,493.0 619.9,492.7 620.5,492.3 621.1,492.0 621.7,491.6 622.3,491.3 622.9,490.9 623.5,490.6 624.1,490.3 624.7,489.9 625.3,489.6 626.0,489.2 626.6,488.9 627.2,488.5 627.8,488.2 628.4,487.8 629.0,487.5 629.6,487.1 630.2,486.8 630.8,486.4 631.4,486.1 632.0,485.7 632.6,485.4 633.2,485.0 633.8,484.7 634.4,484.3 635.2,483.9 636.0,483.4 636.8,482.9 637.7,482.5 638.5,482.0 639.3,481.5 640.1,481.1 640.9,480.6 641.7,480.1 642.5,479.7 643.3,479.2 644.1,478.7 644.9,478.2 645.7,477.8 646.5,477.3 647.3,476.8 648.1,476.3 648.9,475.9 649.8,475.4 650.6,474.9 651.4,474.4 652.2,474.0 653.0,473.5 653.8,473.0 654.6,472.5 655.4,472.0 656.2,471.6 657.0,471.1 657.8,470.6 658.6,470.1 659.4,469.6 660.2,469.1 661.0,468.7 661.9,468.2 662.7,467.7 663.5,467.2 664.3,466.7 665.1,466.2 665.9,465.7 666.7,465.3 667.5,464.8 668.3,464.3 669.1,463.8 669.9,463.3 670.7,462.8 671.5,462.3 672.3,461.8 673.1,461.3 674.0,460.8 674.8,460.4 675.6,459.9 676.4,459.4 677.2,458.9 678.0,458.4 678.8,457.9 679.6,457.4 680.4,456.9 681.2,456.4 682.0,455.9 682.8,455.4 683.6,454.9 684.4,454.4 685.3,453.9 686.1,453.4 686.9,452.9 687.7,452.4 688.5,451.9 689.3,451.4 690.1,450.9 690.9,450.4 691.7,449.9 692.5,449.4 693.3,448.9 694.1,448.4 694.9,447.9 695.7,447.4 696.5,446.9 697.4,446.4 698.2,445.9 699.0,445.4 699.8,444.9 700.6,444.4 701.4,443.9 702.2,443.4 703.0,442.9 703.8,442.4 704.6,441.9 705.4,441.4 706.2,440.9 707.0,440.4 707.8,439.9 708.6,439.4 709.5,438.9 710.3,438.4 711.1,437.9 711.9,437.4 712.7,436.9 713.5,436.4 714.3,435.9 715.1,435.4 715.9,434.9 716.7,434.4 717.5,433.9 718.3,433.4 719.1,432.9 719.9,432.4 720.8,431.9 721.6,431.3 722.4,430.8 723.2,430.3 724.0,429.8 724.8,429.3 725.6,428.8 726.4,428.3 727.2,427.8 728.0,427.3 728.8,426.8 729.6,426.3 730.4,425.8 731.2,425.3 732.0,424.8 732.9,424.3 733.7,423.8 734.5,423.3 735.3,422.8 736.1,422.2 736.9,421.7 737.7,421.2 738.5,420.7 739.3,420.2 740.1,419.7 740.9,419.2 741.7,418.7 742.5,418.2 743.3,417.7 744.1,417.2 745.0,416.7 745.8,416.2 746.6,415.7 747.4,415.2 748.2,414.7 749.0,414.1 749.8,413.6 750.6,413.1 751.4,412.6 752.2,412.1 753.0,411.6 753.8,411.1 754.6,410.6 755.4,410.1 756.3,409.6 757.1,409.1 757.9,408.6 758.7,408.1 759.5,407.6 760.3,407.1 761.1,406.6 761.9,406.0 762.7,405.5 763.5,405.0 764.3,404.5 765.1,404.0 765.9,403.5 766.7,403.0 767.5,402.5 768.4,402.0 769.2,401.5 770.0,401.0 770.8,400.5 771.6,400.0 772.4,399.5 773.2,399.0 774.0,398.5 774.8,398.0 775.6,397.5 776.4,396.9 777.2,396.4 778.0,395.9 778.8,395.4 779.6,394.9 780.5,394.4 781.3,393.9 782.1,393.4 782.9,392.9 783.7,392.4 784.5,391.9 785.3,391.4 786.1,390.9 786.9,390.4 787.7,389.9 788.5,389.4 789.3,388.9 790.1,388.4 790.9,387.9 791.7,387.3 792.6,386.8 793.4,386.3 794.2,385.8 795.0,385.3 795.8,384.8 796.6,384.3 797.4,383.8 798.2,383.3 799.0,382.8 799.8,382.3 800.6,381.8 801.4,381.3 802.2,380.8 803.0,380.3 803.9,379.8 804.7,379.3 805.5,378.8 806.3,378.3 807.1,377.8 807.9,377.3 808.7,376.8 809.5,376.3 810.3,375.8 811.1,375.3 811.9,374.8 812.7,374.3 813.5,373.8 814.3,373.2 815.1,372.7 816.0,372.2 816.8,371.7 817.6,371.2 818.4,370.7 819.2,370.2 820.0,369.7 820.8,369.2 821.6,368.7 822.4,368.2 823.2,367.7 824.0,367.2 824.8,366.7 825.6,366.2 826.4,365.7 827.2,365.2 828.1,364.7 828.9,364.2 829.7,363.7 830.5,363.2 831.3,362.7 832.1,362.2 832.9,361.7 833.7,361.2 834.5,360.7 835.3,360.2 836.1,359.7 836.9,359.2 837.7,358.7 838.5,358.2 839.4,357.7 840.2,357.2 841.0,356.7 841.8,356.2 842.6,355.7 843.4,355.2 844.2,354.7 845.0,354.2 845.8,353.7 846.6,353.2 847.4,352.7 848.2,352.2 849.0,351.7 849.8,351.2 850.6,350.7 851.5,350.2 852.3,349.7 853.1,349.2 853.9,348.7 854.7,348.2 855.5,347.7 856.3,347.2 857.1,346.7 857.9,346.2 858.7,345.7 859.5,345.2 860.3,344.7 861.1,344.2 861.9,343.7 862.7,343.2 863.6,342.7 864.4,342.2 865.2,341.7 866.0,341.2 866.8,340.7 867.6,340.2 868.4,339.8 869.2,339.3 870.0,338.8 870.8,338.3 871.6,337.8 872.4,337.3 873.2,336.8 874.0,336.3 874.8,335.8 875.7,335.3 876.5,334.8 877.3,334.3 878.1,333.8 878.9,333.3 879.7,332.8 880.5,332.3 881.3,331.8 882.1,331.3 882.9,330.8 883.7,330.3 884.5,329.8 885.3,329.3 886.1,328.8 887.0,328.3 887.8,327.8 888.6,327.4 889.4,326.9 890.2,326.4 891.0,325.9 891.8,325.4 892.6,324.9 893.4,324.4 894.2,323.9 895.0,323.4 895.8,322.9 896.2,322.7" fill="none" stroke="#000000" stroke-width="1.80" stroke-linejoin="round" stroke-linecap="butt"/>
<polyline points="513.0,599.6 513.8,599.5 514.6,599.5 515.4,599.5 516.2,599.5 517.0,599.5 517.8,599.4 518.6,599.4 519.5,599.4 520.3,599.3 521.1,599.3 521.9,599.3 522.7,599.2 523.5,599.2 524.3,599.1 525.1,599.1 525.9,599.0 526.7,598.9 527.5,598.9 528.3,598.8 529.1,598.7 529.9,598.6 530.7,598.5 531.6,598.4 532.3,598.3 533.0,598.2 533.7,598.1 534.4,598.0 535.1,597.9 535.8,597.7 536.5,597.6 537.2,597.4 537.9,597.2 538.6,597.1 539.3,596.9 540.0,596.6 540.7,596.4 541.3,596.2 541.9,596.0 542.5,595.8 543.2,595.5 543.8,595.2 544.4,595.0 545.0,594.7 545.6,594.4 546.2,594.0 546.8,593.7 547.3,593.3 547.8,593.0 548.3,592.7 548.8,592.3 549.3,591.9 549.8,591.5 550.3,591.1 550.8,590.7 551.3,590.2 551.8,589.7 552.2,589.3 552.6,588.9 553.0,588.4 553.4,587.9 553.8,587.5 554.2,587.0 554.7,586.4 555.1,585.9 555.5,585.3 555.9,584.7 556.3,584.1 556.7,583.5 557.1,582.8 557.4,582.3 557.7,581.8 558.0,581.2 558.3,580.7 558.6,580.1 558.9,579.5 559.2,578.9 559.5,578.2 559.8,577.6 560.1,576.9 560.4,576.2 560.7,575.5 561.0,574.7 561.3,574.0 561.6,573.2 561.9,572.4 562.2,571.5 562.5,570.7 562.8,569.8 563.0,569.2 563.2,568.6 563.4,568.0 563.6,567.3 563.8,566.7 564.0,566.0 564.2,565.3 564.4,564.6 564.6,563.9 564.8,563.2 565.0,562.4 565.2,561.7 565.4,560.9 565.6,560.1 565.8,559.3 566.0,558.5 566.2,557.7 566.5,556.8 566.7,556.0 566.9,555.1 567.1,554.2 567.3,553.2 567.5,552.3 567.7,551.3 567.9,550.4 568.1,549.0 568.3,547.7 568.5,546.4 568.7,545.2 568.9,543.9 569.1,542.7 569.3,541.6 569.5,540.5 569.7,539.4 569.9,538.3 570.1,537.3 570.3,536.2 570.5,535.3 570.7,534.3 570.9,533.3 571.1,532.4 571.3,531.5 571.5,530.7 571.7,529.8 571.9,529.0 572.1,528.1 572.3,527.3 572.5,526.6 572.7,525.8 572.9,525.0 573.1,524.3 573.3,523.6 573.5,522.9 573.7,522.2 573.9,521.5 574.1,520.9 574.3,520.2 574.5,519.6 574.7,518.9 574.9,518.3 575.1,517.7 575.4,516.8 575.7,516.0 576.0,515.1 576.3,514.3 576.6,513.5 576.9,512.7 577.2,512.0 577.5,511.2 577.8,510.5 578.1,509.8 578.5,509.1 578.8,508.4 579.1,507.7 579.4,507.0 579.7,506.4 580.0,505.8 580.3,505.1 580.6,504.5 580.9,503.9 581.2,503.3 581.5,502.7 581.8,502.1 582.1,501.5 582.4,501.0 582.7,500.4 583.0,499.9 583.3,499.3 583.6,498.8 583.9,498.3 584.2,497.7 584.5,497.2 584.8,496.7 585.1,496.2 585.4,495.7 585.7,495.2 586.1,494.5 586.5,493.9 586.9,493.2 587.3,492.6 587.7,492.0 588.1,491.4 588.5,490.7 588.9,490.1 589.3,489.5 589.7,488.9 590.2,488.4 590.6,487.8 591.0,487.2 591.4,486.6 591.8,486.1 592.2,485.5 592.6,484.9 593.0,484.4 593.4,483.8 593.8,483.3 594.2,482.7 594.6,482.2 595.0,481.7 595.4,481.1 595.8,480.6 596.2,480.1 596.6,479.6 597.0,479.1 597.4,478.5 597.8,478.0 598.2,477.5 598.6,477.0 599.0,476.5 599.4,476.0 599.8,475.5 600.2,475.1 600.6,474.6 601.0,474.1 601.4,473.6 601.8,473.1 602.3,472.7 602.7,472.2 603.1,471.7 603.5,471.3 603.9,470.8 604.3,470.3 604.7,469.9 605.1,469.4 605.5,469.0 605.9,468.5 606.3,468.1 606.7,467.6 607.1,467.2 607.5,466.8 607.9,466.3 608.3,465.9 608.7,465.4 609.1,465.0 609.5,464.6 609.9,464.2 610.3,463.7 610.7,463.3 611.1,462.9 611.5,462.5 611.9,462.1 612.3,461.7 612.7,461.3 613.1,460.9 613.5,460.4 614.0,460.0 614.4,459.6 614.8,459.2 615.3,458.8 615.8,458.3 616.3,457.8 616.8,457.3 617.3,456.8 617.8,456.3 618.3,455.8 618.8,455.4 619.3,454.9 619.8,454.4 620.3,454.0 620.8,453.5 621.3,453.1 621.8,452.6 622.3,452.2 622.8,451.7 623.3,451.3 623.8,450.8 624.3,450.4 624.8,449.9 625.3,449.5 625.9,449.1 626.4,448.6 626.9,448.2 627.4,447.8 627.9,447.4 628.4,446.9 628.9,446.5 629.4,446.1 629.9,445.7 630.4,445.3 630.9,444.9 631.4,444.5 631.9,444.1 632.4,443.7 632.9,443.3 633.4,442.9 633.9,442.5 634.4,442.1 635.2,441.5 636.0,440.9 636.8,440.3 637.7,439.7 638.5,439.1 639.3,438.5 640.1,437.9 640.9,437.3 641.7,436.7 642.5,436.2 643.3,435.6 644.1,435.1 644.9,434.5 645.7,434.0 646.5,433.4 647.3,432.9 648.1,432.3 648.9,431.8 649.8,431.3 650.6,430.8 651.4,430.2 652.2,429.7 653.0,429.2 653.8,428.7 654.6,428.2 655.4,427.7 656.2,427.2 657.0,426.8 657.8,426.3 658.6,425.8 659.4,425.3 660.2,424.8 661.0,424.4 661.9,423.9 662.7,423.5 663.5,423.0 664.3,422.6 665.1,422.1 665.9,421.7 666.7,421.2 667.5,420.8 668.3,420.4 669.1,419.9 669.9,419.5 670.7,419.1 671.5,418.7 672.3,418.2 673.1,417.8 674.0,417.4 674.8,417.0 675.6,416.6 676.4,416.2 677.2,415.8 678.0,415.4 678.8,415.0 679.6,414.6 680.4,414.2 681.2,413.9 682.0,413.5 682.8,413.1 683.6,412.7 684.4,412.3 685.3,412.0 686.1,411.6 686.9,411.2 687.7,410.9 688.5,410.5 689.3,410.2 690.1,409.8 690.9,409.5 691.7,409.1 692.5,408.8 693.3,408.4 694.1,408.1 694.9,407.7 695.7,407.4 696.5,407.1 697.4,406.7 698.2,406.4 699.0,406.1 699.8,405.7 700.6,405.4 701.4,405.1 702.2,404.8 703.0,404.5 703.8,404.1 704.6,403.8 705.4,403.5 706.2,403.2 707.0,402.9 707.8,402.6 708.6,402.3 709.5,402.0 710.3,401.7 711.1,401.4 711.9,401.1 712.7,400.8 713.5,400.5 714.3,400.2 715.1,399.9 715.9,399.6 716.7,399.4 717.5,399.1 718.3,398.8 719.1,398.5 719.9,398.2 720.8,398.0 721.6,397.7 722.4,397.4 723.2,397.1 724.0,396.9 724.8,396.6 725.6,396.3 726.4,396.1 727.2,395.8 728.0,395.5 728.8,395.3 729.6,395.0 730.4,394.8 731.2,394.5 732.0,394.3 732.9,394.0 733.7,393.8 734.5,393.5 735.3,393.3 736.1,393.0 736.9,392.8 737.7,392.5 738.5,392.3 739.3,392.0 740.1,391.8 740.9,391.6 741.7,391.3 742.5,391.1 743.3,390.9 744.1,390.6 745.0,390.4 745.8,390.2 746.6,389.9 747.4,389.7 748.2,389.5 749.0,389.2 749.8,389.0 750.6,388.8 751.4,388.6 752.2,388.4 753.0,388.1 753.8,387.9 754.6,387.7 755.4,387.5 756.3,387.3 757.1,387.1 757.9,386.8 758.7,386.6 759.5,386.4 760.3,386.2 761.1,386.0 761.9,385.8 762.7,385.6 763.5,385.4 764.3,385.2 765.1,385.0 765.9,384.8 766.7,384.6 767.5,384.4 768.4,384.2 769.2,384.0 770.0,383.8 770.8,383.6 771.6,383.4 772.4,383.2 773.2,383.0 774.0,382.8 774.8,382.6 775.6,382.4 776.4,382.2 777.2,382.1 778.0,381.9 778.8,381.7 779.6,381.5 780.5,381.3 781.3,381.1 782.1,381.0 782.9,380.8 783.7,380.6 784.5,380.4 785.3,380.2 786.1,380.1 786.9,379.9 787.7,379.7 788.5,379.5 789.3,379.4 790.1,379.2 790.9,379.0 791.7,378.8 792.6,378.7 793.4,378.5 794.2,378.3 795.0,378.2 795.8,378.0 796.6,377.8 797.4,377.7 798.2,377.5 799.0,377.3 799.8,377.2 800.6,377.0 801.4,376.8 802.2,376.7 803.0,376.5 803.9,376.4 804.7,376.2 805.5,376.0 806.3,375.9 807.1,375.7 807.9,375.6 808.7,375.4 809.5,375.3 810.3,375.1 811.1,375.0 811.9,374.8 812.7,374.6 813.5,374.5 814.3,374.3 815.1,374.2 816.0,374.0 816.8,373.9 817.6,373.8 818.4,373.6 819.2,373.5 820.0,373.3 820.8,373.2 821.6,373.0 822.4,372.9 823.2,372.7 824.0,372.6 824.8,372.5 825.6,372.3 826.4,372.2 827.2,372.0 828.1,371.9 828.9,371.8 829.7,371.6 830.5,371.5 831.3,371.3 832.1,371.2 832.9,371.1 833.7,370.9 834.5,370.8 835.3,370.7 836.1,370.5 836.9,370.4 837.7,370.3 838.5,370.1 839.4,370.0 840.2,369.9 841.0,369.8 841.8,369.6 842.6,369.5 843.4,369.4 844.2,369.2 845.0,369.1 845.8,369.0 846.6,368.9 847.4,368.7 848.2,368.6 849.0,368.5 849.8,368.4 850.6,368.3 851.5,368.1 852.3,368.0 853.1,367.9 853.9,367.8 854.7,367.7 855.5,367.5 856.3,367.4 857.1,367.3 857.9,367.2 858.7,367.1 859.5,366.9 860.3,366.8 861.1,366.7 861.9,366.6 862.7,366.5 863.6,366.4 864.4,366.3 865.2,366.1 866.0,366.0 866.8,365.9 867.6,365.8 868.4,365.7 869.2,365.6 870.0,365.5 870.8,365.4 871.6,365.3 872.4,365.1 873.2,365.0 874.0,364.9 874.8,364.8 875.7,364.7 876.5,364.6 877.3,364.5 878.1,364.4 878.9,364.3 879.7,364.2 880.5,364.1 881.3,364.0 882.1,363.9 882.9,363.8 883.7,363.7 884.5,363.6 885.3,363.5 886.1,363.4 887.0,363.3 887.8,363.2 888.6,363.1 889.4,363.0 890.2,362.9 891.0,362.8 891.8,362.7 892.6,362.6 893.4,362.5 894.2,362.4 895.0,362.3 895.8,362.2 896.2,362.1" fill="none" stroke="#0000ff" stroke-width="1.80" stroke-linejoin="round" stroke-linecap="butt"/>
<polyline points="513.0,599.6 513.8,599.6 514.6,599.6 515.4,599.6 516.2,599.6 517.0,599.5 517.8,599.5 518.6,599.5 519.5,599.5 520.3,599.4 521.1,599.4 521.9,599.4 522.7,599.4 523.5,599.3 524.3,599.3 525.1,599.2 525.9,599.2 526.7,599.1 527.5,599.1 528.3,599.0 529.1,599.0 529.9,598.9 530.7,598.8 531.6,598.7 532.4,598.7 533.2,598.6 534.0,598.4 534.7,598.3 535.4,598.2 536.1,598.1 536.8,598.0 537.5,597.9 538.2,597.7 538.9,597.6 539.6,597.4 540.3,597.2 541.0,597.0 541.7,596.8 542.4,596.6 543.1,596.4 543.7,596.2 544.3,596.0 544.9,595.7 545.5,595.5 546.1,595.2 546.7,594.9 547.3,594.6 547.9,594.2 548.5,593.9 549.0,593.6 549.5,593.2 550.0,592.9 550.5,592.5 551.0,592.1 551.5,591.7 552.0,591.3 552.5,590.8 553.0,590.4 553.4,590.0 553.8,589.5 554.2,589.1 554.7,588.7 555.1,588.2 555.5,587.7 555.9,587.2 556.3,586.6 556.7,586.1 557.1,585.5 557.5,584.9 557.9,584.3 558.3,583.6 558.6,583.1 558.9,582.6 559.2,582.0 559.5,581.5 559.8,580.9 560.1,580.3 560.4,579.7 560.7,579.0 561.0,578.4 561.3,577.7 561.6,577.0 561.9,576.3 562.2,575.5 562.5,574.8 562.8,574.0 563.1,573.2 563.4,572.3 563.7,571.5 564.0,570.6 564.2,569.9 564.4,569.3 564.6,568.7 564.8,568.0 565.0,567.4 565.2,566.7 565.4,566.0 565.6,565.3 565.8,564.6 566.0,563.8 566.2,563.1 566.5,562.4 566.7,561.8 566.9,561.2 567.1,560.6 567.3,559.9 567.5,559.3 567.7,558.7 567.9,558.1 568.1,557.5 568.3,556.9 568.6,556.0 568.9,555.1 569.2,554.3 569.5,553.4 569.8,552.5 570.1,551.7 570.4,550.8 570.7,550.0 571.0,549.1 571.3,548.3 571.6,547.5 571.9,546.7 572.2,545.8 572.5,545.0 572.8,544.2 573.1,543.5 573.4,542.7 573.7,541.9 574.0,541.1 574.3,540.4 574.6,539.6 574.9,538.8 575.2,538.1 575.5,537.3 575.8,536.6 576.1,535.9 576.4,535.2 576.7,534.4 577.0,533.7 577.3,533.0 577.6,532.3 577.9,531.6 578.2,530.9 578.6,530.2 578.9,529.6 579.2,528.9 579.5,528.2 579.8,527.5 580.1,526.9 580.4,526.2 580.7,525.6 581.0,524.9 581.3,524.3 581.6,523.7 581.9,523.0 582.2,522.4 582.5,521.8 582.8,521.2 583.1,520.6 583.4,520.0 583.7,519.3 584.0,518.8 584.3,518.2 584.6,517.6 584.9,517.0 585.2,516.4 585.5,515.8 585.8,515.3 586.1,514.7 586.4,514.1 586.7,513.6 587.0,513.0 587.3,512.5 587.6,511.9 587.9,511.4 588.2,510.8 588.5,510.3 588.8,509.8 589.1,509.2 589.4,508.7 589.7,508.2 590.0,507.7 590.4,507.2 590.7,506.7 591.0,506.2 591.3,505.7 591.7,505.0 592.1,504.3 592.5,503.7 592.9,503.1 593.3,502.4 593.7,501.8 594.1,501.2 594.5,500.5 594.9,499.9 595.3,499.3 595.7,498.7 596.1,498.1 596.5,497.5 596.9,496.9 597.3,496.4 597.7,495.8 598.1,495.2 598.5,494.6 598.9,494.1 599.3,493.5 599.7,493.0 600.1,492.4 600.5,491.9 600.9,491.4 601.3,490.8 601.7,490.3 602.2,489.8 602.6,489.3 603.0,488.7 603.4,488.2 603.8,487.7 604.2,487.2 604.6,486.7 605.0,486.2 605.4,485.8 605.8,485.3 606.2,484.8 606.6,484.3 607.0,483.8 607.4,483.4 607.8,482.9 608.2,482.5 608.6,482.0 609.0,481.5 609.4,481.1 609.8,480.6 610.2,480.2 610.6,479.8 611.0,479.3 611.4,478.9 611.8,478.5 612.2,478.0 612.6,477.6 613.0,477.2 613.4,476.8 613.9,476.4 614.3,476.0 614.7,475.6 615.1,475.2 615.5,474.8 615.9,474.4 616.4,473.9 616.9,473.4 617.4,472.9 617.9,472.4 618.4,471.9 618.9,471.5 619.4,471.0 619.9,470.5 620.4,470.1 620.9,469.6 621.4,469.2 621.9,468.7 622.4,468.3 622.9,467.8 623.4,467.4 623.9,467.0 624.4,466.5 624.9,466.1 625.4,465.7 626.0,465.3 626.5,464.8 627.0,464.4 627.5,464.0 628.0,463.6 628.5,463.2 629.0,462.8 629.5,462.4 630.0,462.0 630.5,461.6 631.0,461.2 631.5,460.8 632.0,460.4 632.5,460.1 633.0,459.7 633.5,459.3 634.0,458.9 634.8,458.3 635.6,457.7 636.4,457.2 637.2,456.6 638.1,456.0 638.9,455.4 639.7,454.9 640.5,454.3 641.3,453.8 642.1,453.2 642.9,452.7 643.7,452.1 644.5,451.6 645.3,451.1 646.1,450.6 646.9,450.0 647.7,449.5 648.5,449.0 649.3,448.5 650.2,448.0 651.0,447.5 651.8,447.0 652.6,446.5 653.4,446.0 654.2,445.5 655.0,445.1 655.8,444.6 656.6,444.1 657.4,443.6 658.2,443.1 659.0,442.7 659.8,442.2 660.6,441.7 661.5,441.3 662.3,440.8 663.1,440.4 663.9,439.9 664.7,439.5 665.5,439.0 666.3,438.6 667.1,438.1 667.9,437.7 668.7,437.2 669.5,436.8 670.3,436.3 671.1,435.9 671.9,435.5 672.7,435.0 673.6,434.6 674.4,434.2 675.2,433.7 676.0,433.3 676.8,432.9 677.6,432.4 678.4,432.0 679.2,431.6 680.0,431.2 680.8,430.8 681.6,430.3 682.4,429.9 683.2,429.5 684.0,429.1 684.8,428.7 685.7,428.2 686.5,427.8 687.3,427.4 688.1,427.0 688.9,426.6 689.7,426.2 690.5,425.8 691.3,425.4 692.1,425.0 692.9,424.6 693.7,424.1 694.5,423.7 695.3,423.3 696.1,422.9 697.0,422.5 697.8,422.1 698.6,421.7 699.4,421.3 700.2,420.9 701.0,420.5 701.8,420.1 702.6,419.7 703.4,419.3 704.2,418.9 705.0,418.5 705.8,418.1 706.6,417.7 707.4,417.3 708.2,416.9 709.1,416.5 709.9,416.1 710.7,415.7 711.5,415.3 712.3,414.9 713.1,414.6 713.9,414.2 714.7,413.8 715.5,413.4 716.3,413.0 717.1,412.6 717.9,412.2 718.7,411.8 719.5,411.4 720.3,411.0 721.2,410.6 722.0,410.2 722.8,409.8 723.6,409.4 724.4,409.1 725.2,408.7 726.0,408.3 726.8,407.9 727.6,407.5 728.4,407.1 729.2,406.7 730.0,406.3 730.8,405.9 731.6,405.5 732.4,405.2 733.3,404.8 734.1,404.4 734.9,404.0 735.7,403.6 736.5,403.2 737.3,402.8 738.1,402.4 738.9,402.1 739.7,401.7 740.5,401.3 741.3,400.9 742.1,400.5 742.9,400.1 743.7,399.7 744.6,399.3 745.4,399.0 746.2,398.6 747.0,398.2 747.8,397.8 748.6,397.4 749.4,397.0 750.2,396.6 751.0,396.3 751.8,395.9 752.6,395.5 753.4,395.1 754.2,394.7 755.0,394.3 755.8,394.0 756.7,393.6 757.5,393.2 758.3,392.8 759.1,392.4 759.9,392.0 760.7,391.7 761.5,391.3 762.3,390.9 763.1,390.5 763.9,390.1 764.7,389.7 765.5,389.4 766.3,389.0 767.1,388.6 767.9,388.2 768.8,387.8 769.6,387.4 770.4,387.1 771.2,386.7 772.0,386.3 772.8,385.9 773.6,385.5 774.4,385.2 775.2,384.8 776.0,384.4 776.8,384.0 777.6,383.6 778.4,383.3 779.2,382.9 780.1,382.5 780.9,382.1 781.7,381.7 782.5,381.4 783.3,381.0 784.1,380.6 784.9,380.2 785.7,379.8 786.5,379.5 787.3,379.1 788.1,378.7 788.9,378.3 789.7,377.9 790.5,377.6 791.3,377.2 792.2,376.8 793.0,376.4 793.8,376.1 794.6,375.7 795.4,375.3 796.2,374.9 797.0,374.5 797.8,374.2 798.6,373.8 799.4,373.4 800.2,373.0 801.0,372.7 801.8,372.3 802.6,371.9 803.4,371.5 804.3,371.2 805.1,370.8 805.9,370.4 806.7,370.0 807.5,369.7 808.3,369.3 809.1,368.9 809.9,368.5 810.7,368.2 811.5,367.8 812.3,367.4 813.1,367.1 813.9,366.7 814.7,366.3 815.5,365.9 816.4,365.6 817.2,365.2 818.0,364.8 818.8,364.5 819.6,364.1 820.4,363.7 821.2,363.3 822.0,363.0 822.8,362.6 823.6,362.2 824.4,361.9 825.2,361.5 826.0,361.1 826.8,360.8 827.7,360.4 828.5,360.0 829.3,359.6 830.1,359.3 830.9,358.9 831.7,358.5 832.5,358.2 833.3,357.8 834.1,357.4 834.9,357.1 835.7,356.7 836.5,356.3 837.3,356.0 838.1,355.6 838.9,355.2 839.8,354.9 840.6,354.5 841.4,354.2 842.2,353.8 843.0,353.4 843.8,353.1 844.6,352.7 845.4,352.3 846.2,352.0 847.0,351.6 847.8,351.2 848.6,350.9 849.4,350.5 850.2,350.2 851.0,349.8 851.9,349.4 852.7,349.1 853.5,348.7 854.3,348.3 855.1,348.0 855.9,347.6 856.7,347.3 857.5,346.9 858.3,346.5 859.1,346.2 859.9,345.8 860.7,345.5 861.5,345.1 862.3,344.7 863.2,344.4 864.0,344.0 864.8,343.7 865.6,343.3 866.4,343.0 867.2,342.6 868.0,342.2 868.8,341.9 869.6,341.5 870.4,341.2 871.2,340.8 872.0,340.5 872.8,340.1 873.6,339.8 874.4,339.4 875.3,339.0 876.1,338.7 876.9,338.3 877.7,338.0 878.5,337.6 879.3,337.3 880.1,336.9 880.9,336.6 881.7,336.2 882.5,335.9 883.3,335.5 884.1,335.2 884.9,334.8 885.7,334.5 886.5,334.1 887.4,333.8 888.2,333.4 889.0,333.1 889.8,332.7 890.6,332.4 891.4,332.0 892.2,331.7 893.0,331.3 893.8,331.0 894.6,330.6 895.4,330.3 896.2,329.9" fill="none" stroke="#ff0000" stroke-width="1.80" stroke-linejoin="round" stroke-linecap="butt"/>
<text transform="translate(68.80 325.50) scale(0.930 1)" text-anchor="end" font-size="22.50px">0</text>
<text transform="translate(68.80 267.90) scale(0.930 1)" text-anchor="end" font-size="22.50px">2</text>
<text transform="translate(68.80 210.30) scale(0.930 1)" text-anchor="end" font-size="22.50px">4</text>
<text transform="translate(68.80 152.70) scale(0.930 1)" text-anchor="end" font-size="22.50px">6</text>
<text transform="translate(68.80 95.10) scale(0.930 1)" text-anchor="end" font-size="22.50px">8</text>
<text transform="translate(68.80 37.50) scale(0.930 1)" text-anchor="end" font-size="22.50px">10</text>
<text transform="translate(68.80 615.90) scale(0.930 1)" text-anchor="end" font-size="22.50px">0</text>
<text transform="translate(68.80 548.90) scale(0.930 1)" text-anchor="end" font-size="22.50px">10</text>
<text transform="translate(68.80 481.90) scale(0.930 1)" text-anchor="end" font-size="22.50px">20</text>
<text transform="translate(68.80 414.90) scale(0.930 1)" text-anchor="end" font-size="22.50px">30</text>
<text transform="translate(68.80 347.90) scale(0.930 1)" text-anchor="end" font-size="22.50px">40</text>
<text transform="translate(507.30 325.50) scale(0.930 1)" text-anchor="end" font-size="22.50px">0</text>
<text transform="translate(507.30 282.10) scale(0.930 1)" text-anchor="end" font-size="22.50px">5</text>
<text transform="translate(507.30 238.70) scale(0.930 1)" text-anchor="end" font-size="22.50px">10</text>
<text transform="translate(507.30 195.30) scale(0.930 1)" text-anchor="end" font-size="22.50px">15</text>
<text transform="translate(507.30 151.90) scale(0.930 1)" text-anchor="end" font-size="22.50px">20</text>
<text transform="translate(507.30 108.50) scale(0.930 1)" text-anchor="end" font-size="22.50px">25</text>
<text transform="translate(507.30 65.10) scale(0.930 1)" text-anchor="end" font-size="22.50px">30</text>
<text transform="translate(507.30 615.90) scale(0.930 1)" text-anchor="end" font-size="22.50px">0</text>
<text transform="translate(507.30 565.75) scale(0.930 1)" text-anchor="end" font-size="22.50px">5</text>
<text transform="translate(507.30 515.60) scale(0.930 1)" text-anchor="end" font-size="22.50px">10</text>
<text transform="translate(507.30 465.45) scale(0.930 1)" text-anchor="end" font-size="22.50px">15</text>
<text transform="translate(507.30 415.30) scale(0.930 1)" text-anchor="end" font-size="22.50px">20</text>
<text transform="translate(507.30 365.15) scale(0.930 1)" text-anchor="end" font-size="22.50px">25</text>
<text transform="translate(74.00 631.80) scale(0.930 1)" text-anchor="middle" font-size="22.50px">0</text>
<text transform="translate(128.80 631.80) scale(0.930 1)" text-anchor="middle" font-size="22.50px">5</text>
<text transform="translate(183.60 631.80) scale(0.930 1)" text-anchor="middle" font-size="22.50px">10</text>
<text transform="translate(238.40 631.80) scale(0.930 1)" text-anchor="middle" font-size="22.50px">15</text>
<text transform="translate(293.20 631.80) scale(0.930 1)" text-anchor="middle" font-size="22.50px">20</text>
<text transform="translate(348.00 631.80) scale(0.930 1)" text-anchor="middle" font-size="22.50px">25</text>
<text transform="translate(402.80 631.80) scale(0.930 1)" text-anchor="middle" font-size="22.50px">30</text>
<text transform="translate(457.60 631.80) scale(0.930 1)" text-anchor="middle" font-size="22.50px">35</text>
<text transform="translate(553.34 631.80) scale(0.930 1)" text-anchor="middle" font-size="22.50px">15</text>
<text transform="translate(654.19 631.80) scale(0.930 1)" text-anchor="middle" font-size="22.50px">20</text>
<text transform="translate(755.04 631.80) scale(0.930 1)" text-anchor="middle" font-size="22.50px">25</text>
<text transform="translate(855.89 631.80) scale(0.930 1)" text-anchor="middle" font-size="22.50px">30</text>
<text transform="translate(252.50 18.70) scale(0.930 1)" text-anchor="middle" font-size="26.60px">1</text>
<text transform="translate(692.70 16.70) scale(0.930 1)" text-anchor="middle" font-size="26.60px">2</text>
<text transform="translate(266.00 666.80) scale(0.985 1)" text-anchor="middle" font-size="22.30px">eV, meV</text>
<text transform="translate(704.00 666.80) scale(0.985 1)" text-anchor="middle" font-size="22.30px">eV, meV</text>
<text transform="translate(20.70 152.30) rotate(-90) scale(0.965 1)" text-anchor="middle" font-size="22.50px">dK/dV</text>
<text transform="translate(37.10 441.30) rotate(-90) scale(0.965 1)" text-anchor="middle" font-size="22.50px">K</text>
<text transform="translate(487.30 127.30) rotate(-90) scale(0.965 1)" text-anchor="middle" font-size="22.50px">K1</text>
<text transform="translate(489.60 436.30) rotate(-90) scale(0.965 1)" text-anchor="middle" font-size="22.50px">K</text>
<text transform="translate(152.30 167.60) scale(0.930 1)" text-anchor="middle" font-size="22.50px">(a)</text>
<text transform="translate(172.00 418.50) scale(0.930 1)" text-anchor="middle" font-size="22.50px">(b)</text>
<text transform="translate(278.40 208.70) scale(0.930 1)" text-anchor="middle" font-size="22.50px">2</text>
<text transform="translate(274.40 273.60) scale(0.930 1)" text-anchor="middle" font-size="22.50px">1</text>
<text transform="translate(286.80 314.80) scale(0.930 1)" text-anchor="middle" font-size="22.50px">3</text>
<text transform="translate(360.00 388.50) scale(0.930 1)" text-anchor="middle" font-size="22.50px">2</text>
<text transform="translate(391.00 437.10) scale(0.930 1)" text-anchor="middle" font-size="22.50px">1</text>
<text transform="translate(411.80 508.20) scale(0.930 1)" text-anchor="middle" font-size="22.50px">3</text>
<text transform="translate(561.70 158.50) scale(0.930 1)" text-anchor="middle" font-size="22.50px">(a)</text>
<text transform="translate(564.20 416.20) scale(0.930 1)" text-anchor="middle" font-size="22.50px">(b)</text>
<text transform="translate(801.70 174.10) scale(0.930 1)" text-anchor="middle" font-size="22.50px">15.8 meV</text>
<text transform="translate(771.50 504.50) scale(0.930 1)" text-anchor="middle" font-size="22.50px">15.8 meV</text>
<text transform="translate(558.00 219.00) scale(0.930 1)" text-anchor="middle" font-size="22.50px">15 mV</text>
<text transform="translate(638.50 284.20) scale(0.930 1)" text-anchor="middle" font-size="22.50px">17 mV</text>
<text transform="translate(646.00 434.00) scale(0.930 1)" text-anchor="middle" font-size="22.50px">3</text>
<text transform="translate(665.60 457.80) scale(0.930 1)" text-anchor="middle" font-size="22.50px">2</text>
<text transform="translate(699.20 475.60) scale(0.930 1)" text-anchor="middle" font-size="22.50px">1</text>
</svg>
</body></html>
